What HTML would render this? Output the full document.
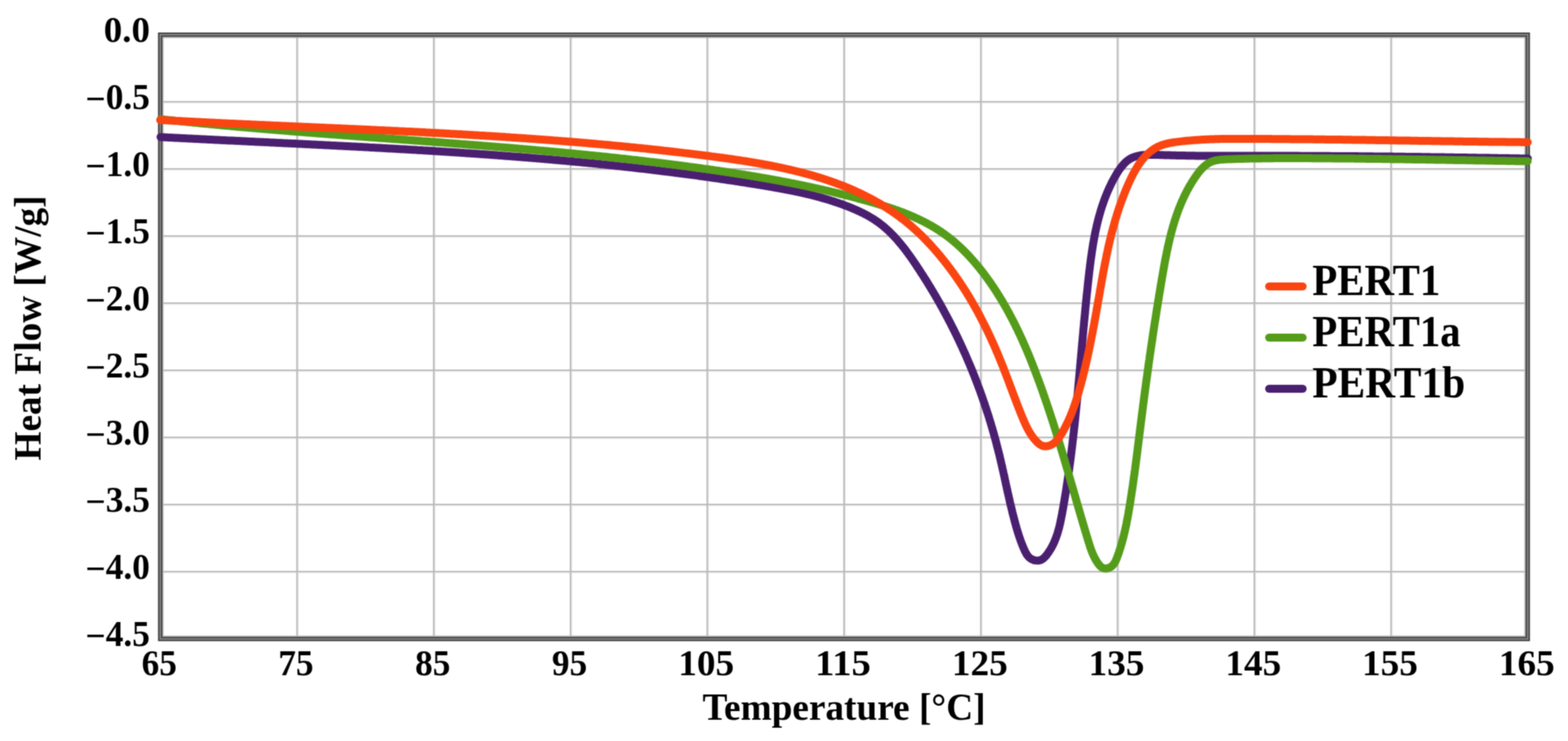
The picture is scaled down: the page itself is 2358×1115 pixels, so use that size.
<!DOCTYPE html>
<html><head><meta charset="utf-8"><title>Heat Flow vs Temperature (DSC)</title>
<style>html,body{margin:0;padding:0;background:#fff;overflow:hidden;}svg{display:block;}</style>
</head><body>
<svg width="2358" height="1115" viewBox="0 0 2358 1115">
<defs><filter id="soft" x="0" y="0" width="100%" height="100%" color-interpolation-filters="sRGB"><feConvolveMatrix order="3" kernelMatrix="1 2 1 2 4 2 1 2 1" divisor="16" edgeMode="duplicate"/></filter></defs>
<g filter="url(#soft)">
<rect width="2358" height="1115" fill="#fff"/>
<g stroke="#e6e6e6" stroke-width="2"><line x1="448.2" y1="52.2" x2="448.2" y2="961.5"/><line x1="653.8" y1="52.2" x2="653.8" y2="961.5"/><line x1="859.5" y1="52.2" x2="859.5" y2="961.5"/><line x1="1065.1" y1="52.2" x2="1065.1" y2="961.5"/><line x1="1270.8" y1="52.2" x2="1270.8" y2="961.5"/><line x1="1476.5" y1="52.2" x2="1476.5" y2="961.5"/><line x1="1682.1" y1="52.2" x2="1682.1" y2="961.5"/><line x1="1887.8" y1="52.2" x2="1887.8" y2="961.5"/><line x1="2093.4" y1="52.2" x2="2093.4" y2="961.5"/><line x1="240.9" y1="154.6" x2="2297.5" y2="154.6"/><line x1="240.9" y1="255.6" x2="2297.5" y2="255.6"/><line x1="240.9" y1="356.6" x2="2297.5" y2="356.6"/><line x1="240.9" y1="457.6" x2="2297.5" y2="457.6"/><line x1="240.9" y1="558.6" x2="2297.5" y2="558.6"/><line x1="240.9" y1="659.6" x2="2297.5" y2="659.6"/><line x1="240.9" y1="760.6" x2="2297.5" y2="760.6"/><line x1="240.9" y1="861.6" x2="2297.5" y2="861.6"/></g>
<g stroke="#b9b9b9" stroke-width="2.2"><line x1="446.6" y1="52.2" x2="446.6" y2="961.5"/><line x1="652.2" y1="52.2" x2="652.2" y2="961.5"/><line x1="857.9" y1="52.2" x2="857.9" y2="961.5"/><line x1="1063.5" y1="52.2" x2="1063.5" y2="961.5"/><line x1="1269.2" y1="52.2" x2="1269.2" y2="961.5"/><line x1="1474.9" y1="52.2" x2="1474.9" y2="961.5"/><line x1="1680.5" y1="52.2" x2="1680.5" y2="961.5"/><line x1="1886.2" y1="52.2" x2="1886.2" y2="961.5"/><line x1="2091.8" y1="52.2" x2="2091.8" y2="961.5"/><line x1="240.9" y1="153.0" x2="2297.5" y2="153.0"/><line x1="240.9" y1="254.0" x2="2297.5" y2="254.0"/><line x1="240.9" y1="355.0" x2="2297.5" y2="355.0"/><line x1="240.9" y1="456.0" x2="2297.5" y2="456.0"/><line x1="240.9" y1="557.0" x2="2297.5" y2="557.0"/><line x1="240.9" y1="658.0" x2="2297.5" y2="658.0"/><line x1="240.9" y1="759.0" x2="2297.5" y2="759.0"/><line x1="240.9" y1="860.0" x2="2297.5" y2="860.0"/></g>
<rect x="245.1" y="56.4" width="2048.2" height="900.9" fill="none" stroke="#b8b8b8" stroke-width="2"/>
<rect x="240.9" y="52.2" width="2056.6" height="909.3" fill="none" stroke="#424242" stroke-width="6.6"/>
<rect x="240.9" y="52.2" width="2056.6" height="909.3" fill="none" stroke="#8e8e8e" stroke-width="2"/>
<path d="M241.4,206.3L243.4,206.4 245.4,206.5 247.4,206.6 249.4,206.7 251.4,206.8 253.4,206.9 255.4,207.0 257.4,207.1 259.4,207.2 261.4,207.3 263.4,207.4 265.4,207.5 267.4,207.6 269.4,207.7 271.4,207.8 273.4,207.9 275.4,208.0 277.4,208.1 279.4,208.2 281.4,208.3 283.4,208.4 285.5,208.5 287.5,208.6 289.5,208.7 291.5,208.8 293.5,208.9 295.5,209.0 297.5,209.1 299.5,209.2 301.5,209.3 303.5,209.4 305.5,209.5 307.5,209.6 309.5,209.7 311.5,209.8 313.5,209.9 315.5,210.0 317.5,210.1 319.5,210.2 321.5,210.3 323.5,210.4 325.5,210.5 327.5,210.6 329.5,210.7 331.5,210.8 333.5,210.9 335.5,211.0 337.5,211.1 339.5,211.2 341.5,211.3 343.5,211.4 345.5,211.5 347.5,211.5 349.5,211.6 351.5,211.7 353.5,211.8 355.5,211.9 357.5,212.0 359.5,212.1 361.5,212.2 363.5,212.3 365.5,212.4 367.5,212.5 369.5,212.6 371.5,212.7 373.5,212.8 375.5,212.9 377.5,213.0 379.5,213.1 381.5,213.2 383.5,213.3 385.5,213.4 387.5,213.5 389.5,213.6 391.5,213.7 393.5,213.7 395.5,213.8 397.5,213.9 399.5,214.0 401.5,214.1 403.5,214.2 405.5,214.3 407.5,214.4 409.5,214.5 411.5,214.6 413.5,214.7 415.5,214.8 417.5,214.9 419.5,215.0 421.5,215.1 423.5,215.2 425.5,215.3 427.5,215.4 429.5,215.5 431.5,215.6 433.5,215.7 435.5,215.8 437.5,215.8 439.5,215.9 441.5,216.0 443.5,216.1 445.5,216.2 447.5,216.3 449.5,216.4 451.5,216.5 453.5,216.6 455.5,216.7 457.5,216.8 459.5,216.9 461.5,217.0 463.5,217.1 465.5,217.2 467.5,217.3 469.5,217.4 471.5,217.5 473.5,217.6 475.5,217.7 477.5,217.8 479.5,217.9 481.5,218.0 483.5,218.1 485.5,218.2 487.5,218.3 489.5,218.4 491.5,218.5 493.5,218.6 495.5,218.7 497.5,218.8 499.5,218.9 501.5,219.0 503.5,219.1 505.5,219.2 507.5,219.3 509.5,219.4 511.5,219.5 513.5,219.6 515.5,219.7 517.5,219.8 519.5,219.9 521.5,220.0 523.5,220.1 525.5,220.2 527.5,220.3 529.5,220.4 531.5,220.5 533.5,220.6 535.5,220.7 537.5,220.8 539.5,220.9 541.5,221.0 543.5,221.1 545.5,221.2 547.5,221.3 549.5,221.4 551.5,221.5 553.4,221.6 555.4,221.8 557.4,221.9 559.4,222.0 561.4,222.1 563.4,222.2 565.4,222.3 567.4,222.4 569.4,222.5 571.4,222.6 573.4,222.7 575.4,222.8 577.4,222.9 579.4,223.0 581.4,223.2 583.4,223.3 585.4,223.4 587.4,223.5 589.4,223.6 591.4,223.7 593.4,223.8 595.4,223.9 597.4,224.0 599.4,224.2 601.4,224.3 603.4,224.4 605.4,224.5 607.4,224.6 609.4,224.7 611.4,224.8 613.4,224.9 615.4,225.1 617.4,225.2 619.4,225.3 621.4,225.4 623.4,225.5 625.4,225.6 627.4,225.8 629.3,225.9 631.3,226.0 633.3,226.1 635.3,226.2 637.3,226.4 639.3,226.5 641.3,226.6 643.3,226.7 645.3,226.8 647.3,227.0 649.3,227.1 651.3,227.2 653.3,227.3 655.3,227.4 657.3,227.6 659.3,227.7 661.3,227.8 663.3,227.9 665.3,228.1 667.3,228.2 669.3,228.3 671.3,228.4 673.3,228.6 675.3,228.7 677.3,228.8 679.3,229.0 681.2,229.1 683.2,229.2 685.2,229.3 687.2,229.5 689.2,229.6 691.2,229.7 693.2,229.9 695.2,230.0 697.2,230.1 699.2,230.3 701.2,230.4 703.2,230.5 705.2,230.7 707.2,230.8 709.2,230.9 711.2,231.1 713.2,231.2 715.2,231.3 717.2,231.5 719.2,231.6 721.2,231.8 723.1,231.9 725.1,232.0 727.1,232.2 729.1,232.3 731.1,232.5 733.1,232.6 735.1,232.7 737.1,232.9 739.1,233.0 741.1,233.2 743.1,233.3 745.1,233.5 747.1,233.6 749.1,233.8 751.1,233.9 753.1,234.1 755.1,234.2 757.1,234.4 759.1,234.5 761.0,234.7 763.0,234.8 765.0,235.0 767.0,235.1 769.0,235.3 771.0,235.4 773.0,235.6 775.0,235.7 777.0,235.9 779.0,236.0 781.0,236.2 783.0,236.3 785.0,236.5 787.0,236.7 789.0,236.8 791.0,237.0 792.9,237.1 794.9,237.3 796.9,237.5 798.9,237.6 800.9,237.8 802.9,237.9 804.9,238.1 806.9,238.3 808.9,238.4 810.9,238.6 812.9,238.8 814.9,238.9 816.9,239.1 818.9,239.3 820.8,239.5 822.8,239.6 824.8,239.8 826.8,240.0 828.8,240.1 830.8,240.3 832.8,240.5 834.8,240.7 836.8,240.8 838.8,241.0 840.8,241.2 842.8,241.4 844.8,241.5 846.8,241.7 848.7,241.9 850.7,242.1 852.7,242.3 854.7,242.4 856.7,242.6 858.7,242.8 860.7,243.0 862.7,243.2 864.7,243.4 866.7,243.5 868.7,243.7 870.7,243.9 872.6,244.1 874.6,244.3 876.6,244.5 878.6,244.7 880.6,244.9 882.6,245.1 884.6,245.3 886.6,245.5 888.6,245.6 890.6,245.8 892.6,246.0 894.6,246.2 896.5,246.4 898.5,246.6 900.5,246.8 902.5,247.0 904.5,247.2 906.5,247.4 908.5,247.6 910.5,247.8 912.5,248.1 914.5,248.3 916.5,248.5 918.4,248.7 920.4,248.9 922.4,249.1 924.4,249.3 926.4,249.5 928.4,249.7 930.4,249.9 932.4,250.1 934.4,250.4 936.4,250.6 938.3,250.8 940.3,251.0 942.3,251.2 944.3,251.4 946.3,251.7 948.3,251.9 950.3,252.1 952.3,252.3 954.3,252.6 956.3,252.8 958.2,253.0 960.2,253.2 962.2,253.5 964.2,253.7 966.2,253.9 968.2,254.1 970.2,254.4 972.2,254.6 974.2,254.8 976.2,255.1 978.1,255.3 980.1,255.5 982.1,255.8 984.1,256.0 986.1,256.3 988.1,256.5 990.1,256.7 992.1,257.0 994.1,257.2 996.0,257.5 998.0,257.7 1000.0,258.0 1002.0,258.2 1004.0,258.4 1006.0,258.7 1008.0,258.9 1010.0,259.2 1011.9,259.4 1013.9,259.7 1015.9,260.0 1017.9,260.2 1019.9,260.5 1021.9,260.7 1023.9,261.0 1025.9,261.2 1027.9,261.5 1029.8,261.8 1031.8,262.0 1033.8,262.3 1035.8,262.5 1037.8,262.8 1039.8,263.1 1041.8,263.3 1043.8,263.6 1045.7,263.9 1047.7,264.1 1049.7,264.4 1051.7,264.7 1053.7,265.0 1055.7,265.2 1057.7,265.5 1059.7,265.8 1061.6,266.1 1063.6,266.3 1065.6,266.6 1067.6,266.9 1069.6,267.2 1071.6,267.5 1073.6,267.8 1075.5,268.0 1077.5,268.3 1079.5,268.6 1081.5,268.9 1083.5,269.2 1085.5,269.5 1087.5,269.8 1089.5,270.1 1091.4,270.4 1093.4,270.7 1095.4,271.0 1097.4,271.3 1099.4,271.5 1101.4,271.8 1103.4,272.1 1105.3,272.5 1107.3,272.8 1109.3,273.1 1111.3,273.4 1113.3,273.7 1115.3,274.0 1117.3,274.3 1119.2,274.6 1121.2,274.9 1123.2,275.2 1125.2,275.5 1127.2,275.9 1129.2,276.2 1131.2,276.5 1133.1,276.8 1135.1,277.1 1137.1,277.4 1139.1,277.8 1141.1,278.1 1143.1,278.4 1145.0,278.7 1147.0,279.1 1149.0,279.4 1151.0,279.7 1153.0,280.1 1155.0,280.4 1156.9,280.7 1158.9,281.1 1160.9,281.4 1162.9,281.8 1164.9,282.1 1166.9,282.5 1168.8,282.8 1170.8,283.2 1172.8,283.5 1174.8,283.9 1176.7,284.3 1178.7,284.6 1180.7,285.0 1182.7,285.4 1184.6,285.8 1186.6,286.2 1188.6,286.6 1190.5,286.9 1192.5,287.3 1194.5,287.7 1196.4,288.2 1198.4,288.6 1200.3,289.0 1202.3,289.4 1204.3,289.8 1206.2,290.3 1208.2,290.7 1210.1,291.2 1212.1,291.6 1214.0,292.1 1215.9,292.5 1217.9,293.0 1219.8,293.5 1221.8,294.0 1223.7,294.5 1225.6,295.0 1227.6,295.5 1229.5,296.0 1231.4,296.5 1233.3,297.0 1235.3,297.6 1237.2,298.1 1239.1,298.6 1241.0,299.2 1242.9,299.8 1244.8,300.3 1246.7,300.9 1248.6,301.5 1250.5,302.1 1252.4,302.7 1254.3,303.3 1256.2,304.0 1258.1,304.6 1260.0,305.2 1261.8,305.9 1263.7,306.5 1265.6,307.2 1267.5,307.9 1269.3,308.6 1271.2,309.3 1273.0,310.0 1274.9,310.7 1276.7,311.4 1278.6,312.2 1280.4,312.9 1282.3,313.7 1284.1,314.5 1285.9,315.3 1287.7,316.1 1289.6,316.9 1291.4,317.7 1293.2,318.5 1294.9,319.4 1296.7,320.3 1298.5,321.1 1300.3,322.0 1302.0,323.0 1303.8,323.9 1305.5,324.8 1307.2,325.8 1308.9,326.8 1310.6,327.8 1312.3,328.8 1314.0,329.9 1315.6,331.0 1317.2,332.1 1318.9,333.2 1320.5,334.3 1322.1,335.5 1323.6,336.7 1325.2,337.9 1326.7,339.1 1328.2,340.3 1329.7,341.6 1331.2,342.9 1332.7,344.2 1334.2,345.5 1335.6,346.8 1337.1,348.2 1338.5,349.6 1339.9,351.0 1341.3,352.4 1342.7,353.8 1344.0,355.2 1345.4,356.7 1346.8,358.1 1348.1,359.6 1349.4,361.1 1350.7,362.6 1352.0,364.2 1353.3,365.7 1354.6,367.2 1355.9,368.8 1357.1,370.4 1358.4,371.9 1359.6,373.5 1360.9,375.1 1362.1,376.7 1363.3,378.4 1364.5,380.0 1365.7,381.6 1366.9,383.3 1368.1,384.9 1369.3,386.6 1370.4,388.2 1371.6,389.9 1372.8,391.6 1373.9,393.2 1375.0,394.9 1376.2,396.6 1377.3,398.3 1378.4,400.0 1379.6,401.7 1380.7,403.4 1381.8,405.1 1382.9,406.8 1384.0,408.5 1385.1,410.2 1386.2,411.9 1387.3,413.6 1388.4,415.3 1389.5,417.0 1390.6,418.7 1391.7,420.4 1392.7,422.1 1393.8,423.8 1394.9,425.5 1395.9,427.3 1397.0,429.0 1398.0,430.7 1399.1,432.4 1400.1,434.1 1401.1,435.9 1402.2,437.6 1403.2,439.3 1404.2,441.0 1405.3,442.8 1406.3,444.5 1407.3,446.2 1408.3,448.0 1409.3,449.7 1410.3,451.5 1411.3,453.2 1412.3,454.9 1413.3,456.7 1414.2,458.4 1415.2,460.2 1416.2,461.9 1417.2,463.7 1418.1,465.4 1419.1,467.2 1420.0,469.0 1421.0,470.7 1421.9,472.5 1422.9,474.2 1423.8,476.0 1424.8,477.8 1425.7,479.5 1426.6,481.3 1427.5,483.1 1428.5,484.8 1429.4,486.6 1430.3,488.4 1431.2,490.2 1432.1,491.9 1433.0,493.7 1433.9,495.5 1434.8,497.3 1435.7,499.1 1436.5,500.9 1437.4,502.6 1438.3,504.4 1439.2,506.2 1440.0,508.0 1440.9,509.8 1441.7,511.6 1442.6,513.4 1443.4,515.2 1444.3,517.0 1445.1,518.8 1445.9,520.6 1446.8,522.4 1447.6,524.2 1448.4,526.1 1449.2,527.9 1450.1,529.7 1450.9,531.5 1451.7,533.3 1452.5,535.1 1453.3,537.0 1454.1,538.8 1454.8,540.6 1455.6,542.4 1456.4,544.3 1457.2,546.1 1458.0,547.9 1458.7,549.7 1459.5,551.6 1460.3,553.4 1461.0,555.3 1461.8,557.1 1462.5,558.9 1463.2,560.8 1464.0,562.6 1464.7,564.5 1465.5,566.3 1466.2,568.2 1466.9,570.0 1467.6,571.9 1468.3,573.7 1469.0,575.6 1469.7,577.4 1470.4,579.3 1471.1,581.2 1471.8,583.0 1472.5,584.9 1473.2,586.8 1473.9,588.6 1474.6,590.5 1475.2,592.4 1475.9,594.2 1476.6,596.1 1477.2,598.0 1477.9,599.9 1478.5,601.8 1479.2,603.6 1479.8,605.5 1480.5,607.4 1481.1,609.3 1481.7,611.2 1482.4,613.1 1483.0,615.0 1483.6,616.9 1484.2,618.8 1484.8,620.7 1485.5,622.6 1486.1,624.5 1486.7,626.4 1487.3,628.3 1487.8,630.2 1488.4,632.1 1489.0,634.0 1489.6,635.9 1490.2,637.8 1490.7,639.8 1491.3,641.7 1491.9,643.6 1492.4,645.5 1493.0,647.4 1493.5,649.4 1494.1,651.3 1494.6,653.2 1495.2,655.2 1495.7,657.1 1496.2,659.0 1496.8,661.0 1497.3,662.9 1497.8,664.8 1498.3,666.8 1498.8,668.7 1499.3,670.7 1499.8,672.6 1500.3,674.6 1500.8,676.5 1501.3,678.5 1501.8,680.4 1502.3,682.4 1502.8,684.3 1503.3,686.3 1503.7,688.3 1504.2,690.2 1504.7,692.2 1505.1,694.2 1505.6,696.1 1506.0,698.1 1506.5,700.1 1506.9,702.0 1507.4,704.0 1507.8,706.0 1508.3,707.9 1508.7,709.9 1509.1,711.9 1509.6,713.9 1510.0,715.8 1510.5,717.8 1510.9,719.8 1511.3,721.8 1511.8,723.7 1512.2,725.7 1512.6,727.7 1513.0,729.7 1513.5,731.6 1513.9,733.6 1514.3,735.6 1514.8,737.5 1515.2,739.5 1515.6,741.5 1516.1,743.4 1516.5,745.4 1517.0,747.3 1517.4,749.3 1517.9,751.3 1518.3,753.2 1518.7,755.2 1519.2,757.1 1519.6,759.1 1520.1,761.0 1520.6,762.9 1521.0,764.9 1521.5,766.8 1522.0,768.7 1522.4,770.7 1522.9,772.6 1523.4,774.5 1523.9,776.4 1524.4,778.4 1524.9,780.3 1525.4,782.2 1525.9,784.1 1526.4,786.0 1526.9,787.9 1527.4,789.8 1527.9,791.6 1528.5,793.5 1529.0,795.4 1529.6,797.3 1530.1,799.2 1530.7,801.0 1531.3,802.9 1531.9,804.8 1532.5,806.6 1533.1,808.5 1533.8,810.4 1534.4,812.3 1535.1,814.1 1535.8,816.0 1536.5,817.9 1537.3,819.8 1538.0,821.7 1538.8,823.6 1539.6,825.5 1540.5,827.4 1541.3,829.3 1542.3,831.2 1543.3,833.0 1544.4,834.8 1545.6,836.4 1546.9,837.9 1548.3,839.3 1549.9,840.5 1551.7,841.5 1553.5,842.3 1555.4,843.0 1557.4,843.4 1559.4,843.6 1561.3,843.5 1563.2,843.2 1565.0,842.7 1566.7,841.9 1568.4,840.8 1569.9,839.6 1571.3,838.2 1572.7,836.7 1574.0,835.1 1575.2,833.4 1576.4,831.7 1577.6,830.0 1578.7,828.3 1579.8,826.6 1580.8,824.8 1581.8,823.0 1582.7,821.3 1583.6,819.5 1584.5,817.7 1585.3,815.8 1586.1,814.0 1586.8,812.1 1587.6,810.3 1588.3,808.4 1588.9,806.5 1589.6,804.6 1590.2,802.7 1590.8,800.8 1591.3,798.9 1591.9,797.0 1592.4,795.1 1592.9,793.1 1593.4,791.2 1593.8,789.2 1594.3,787.3 1594.7,785.3 1595.1,783.3 1595.5,781.4 1595.9,779.4 1596.3,777.4 1596.7,775.5 1597.1,773.5 1597.4,771.5 1597.8,769.5 1598.2,767.5 1598.5,765.6 1598.9,763.6 1599.2,761.6 1599.6,759.6 1599.9,757.6 1600.2,755.7 1600.6,753.7 1600.9,751.7 1601.2,749.7 1601.6,747.7 1601.9,745.8 1602.2,743.8 1602.5,741.8 1602.9,739.8 1603.2,737.8 1603.5,735.9 1603.8,733.9 1604.1,731.9 1604.4,729.9 1604.7,727.9 1605.0,726.0 1605.3,724.0 1605.6,722.0 1605.9,720.0 1606.2,718.0 1606.4,716.1 1606.7,714.1 1607.0,712.1 1607.3,710.1 1607.6,708.1 1607.8,706.2 1608.1,704.2 1608.4,702.2 1608.6,700.2 1608.9,698.2 1609.2,696.2 1609.4,694.3 1609.7,692.3 1610.0,690.3 1610.2,688.3 1610.5,686.3 1610.7,684.4 1611.0,682.4 1611.2,680.4 1611.4,678.4 1611.7,676.4 1611.9,674.5 1612.2,672.5 1612.4,670.5 1612.6,668.5 1612.9,666.5 1613.1,664.5 1613.3,662.6 1613.6,660.6 1613.8,658.6 1614.0,656.6 1614.2,654.6 1614.5,652.6 1614.7,650.7 1614.9,648.7 1615.1,646.7 1615.3,644.7 1615.6,642.7 1615.8,640.7 1616.0,638.8 1616.2,636.8 1616.4,634.8 1616.6,632.8 1616.8,630.8 1617.0,628.8 1617.2,626.9 1617.4,624.9 1617.6,622.9 1617.8,620.9 1618.0,618.9 1618.2,616.9 1618.4,614.9 1618.6,613.0 1618.8,611.0 1619.0,609.0 1619.2,607.0 1619.4,605.0 1619.6,603.0 1619.8,601.0 1620.0,599.1 1620.2,597.1 1620.3,595.1 1620.5,593.1 1620.7,591.1 1620.9,589.1 1621.1,587.1 1621.3,585.2 1621.5,583.2 1621.6,581.2 1621.8,579.2 1622.0,577.2 1622.2,575.2 1622.4,573.2 1622.6,571.2 1622.7,569.2 1622.9,567.3 1623.1,565.3 1623.3,563.3 1623.4,561.3 1623.6,559.3 1623.8,557.3 1624.0,555.3 1624.2,553.3 1624.3,551.3 1624.5,549.4 1624.7,547.4 1624.9,545.4 1625.0,543.4 1625.2,541.4 1625.4,539.4 1625.6,537.4 1625.8,535.4 1625.9,533.4 1626.1,531.4 1626.3,529.4 1626.5,527.4 1626.6,525.5 1626.8,523.5 1627.0,521.5 1627.2,519.5 1627.3,517.5 1627.5,515.5 1627.7,513.5 1627.9,511.5 1628.1,509.5 1628.2,507.5 1628.4,505.5 1628.6,503.5 1628.8,501.5 1629.0,499.5 1629.1,497.5 1629.3,495.5 1629.5,493.5 1629.7,491.5 1629.9,489.6 1630.1,487.6 1630.2,485.6 1630.4,483.6 1630.6,481.6 1630.8,479.6 1631.0,477.6 1631.2,475.6 1631.4,473.6 1631.6,471.6 1631.8,469.6 1631.9,467.6 1632.1,465.6 1632.3,463.6 1632.5,461.6 1632.7,459.6 1632.9,457.6 1633.1,455.6 1633.3,453.6 1633.5,451.6 1633.7,449.6 1633.9,447.6 1634.1,445.6 1634.3,443.6 1634.5,441.6 1634.8,439.6 1635.0,437.6 1635.2,435.6 1635.4,433.6 1635.6,431.5 1635.8,429.5 1636.0,427.5 1636.2,425.5 1636.5,423.5 1636.7,421.5 1636.9,419.5 1637.1,417.5 1637.4,415.5 1637.6,413.5 1637.8,411.5 1638.0,409.5 1638.3,407.5 1638.5,405.5 1638.8,403.5 1639.0,401.5 1639.2,399.5 1639.5,397.5 1639.8,395.5 1640.0,393.5 1640.3,391.5 1640.5,389.5 1640.8,387.5 1641.1,385.5 1641.4,383.5 1641.7,381.5 1642.0,379.5 1642.2,377.5 1642.6,375.5 1642.9,373.5 1643.2,371.5 1643.5,369.5 1643.8,367.5 1644.2,365.6 1644.5,363.6 1644.9,361.6 1645.2,359.6 1645.6,357.7 1645.9,355.7 1646.3,353.7 1646.7,351.7 1647.1,349.8 1647.5,347.8 1647.9,345.9 1648.4,343.9 1648.8,342.0 1649.2,340.0 1649.7,338.1 1650.1,336.1 1650.6,334.2 1651.1,332.3 1651.6,330.3 1652.1,328.4 1652.6,326.5 1653.1,324.6 1653.7,322.6 1654.2,320.7 1654.8,318.8 1655.3,316.9 1655.9,315.0 1656.5,313.1 1657.1,311.2 1657.7,309.3 1658.4,307.5 1659.0,305.6 1659.7,303.7 1660.3,301.8 1661.0,300.0 1661.7,298.1 1662.4,296.3 1663.2,294.4 1663.9,292.6 1664.6,290.8 1665.4,288.9 1666.2,287.1 1667.0,285.3 1667.8,283.5 1668.6,281.7 1669.5,279.9 1670.4,278.1 1671.2,276.3 1672.1,274.5 1673.0,272.7 1674.0,270.9 1674.9,269.2 1675.9,267.4 1676.9,265.7 1677.9,263.9 1678.9,262.2 1679.9,260.5 1681.0,258.8 1682.0,257.1 1683.2,255.4 1684.3,253.8 1685.5,252.2 1686.7,250.7 1687.9,249.2 1689.2,247.7 1690.5,246.3 1691.8,245.0 1693.2,243.7 1694.6,242.4 1696.1,241.3 1697.6,240.2 1699.1,239.2 1700.7,238.3 1702.4,237.5 1704.1,236.7 1705.9,236.1 1707.7,235.5 1709.5,235.0 1711.4,234.5 1713.3,234.1 1715.3,233.8 1717.2,233.5 1719.3,233.3 1721.3,233.2 1723.3,233.0 1725.4,232.9 1727.5,232.9 1729.6,232.9 1731.7,232.9 1733.9,232.9 1736.0,232.9 1738.1,233.0 1740.3,233.0 1742.4,233.1 1744.5,233.2 1746.7,233.3 1748.8,233.3 1750.9,233.4 1753.0,233.5 1755.1,233.5 1757.2,233.6 1759.3,233.6 1761.4,233.7 1763.5,233.7 1765.5,233.8 1767.6,233.8 1769.7,233.9 1771.7,233.9 1773.8,234.0 1775.8,234.0 1777.9,234.1 1779.9,234.1 1781.9,234.1 1784.0,234.2 1786.0,234.2 1788.0,234.2 1790.0,234.3 1792.1,234.3 1794.1,234.3 1796.1,234.3 1798.1,234.4 1800.1,234.4 1802.1,234.4 1804.1,234.4 1806.1,234.5 1808.1,234.5 1810.0,234.5 1812.0,234.5 1814.0,234.5 1816.0,234.5 1818.0,234.5 1819.9,234.6 1821.9,234.6 1823.9,234.6 1825.8,234.6 1827.8,234.6 1829.8,234.6 1831.7,234.6 1833.7,234.6 1835.7,234.6 1837.6,234.6 1839.6,234.6 1841.6,234.6 1843.5,234.6 1845.5,234.6 1847.4,234.6 1849.4,234.6 1851.3,234.6 1853.3,234.6 1855.3,234.6 1857.2,234.6 1859.2,234.6 1861.1,234.6 1863.1,234.6 1865.1,234.6 1867.0,234.6 1869.0,234.6 1871.0,234.6 1872.9,234.6 1874.9,234.6 1876.9,234.6 1878.8,234.6 1880.8,234.6 1882.8,234.6 1884.8,234.6 1886.7,234.6 1888.7,234.6 1890.7,234.6 1892.7,234.6 1894.7,234.6 1896.7,234.6 1898.6,234.6 1900.6,234.6 1902.6,234.6 1904.6,234.6 1906.6,234.6 1908.6,234.6 1910.6,234.6 1912.6,234.6 1914.6,234.6 1916.6,234.6 1918.6,234.6 1920.7,234.6 1922.7,234.6 1924.7,234.6 1926.7,234.6 1928.7,234.6 1930.7,234.6 1932.7,234.6 1934.7,234.6 1936.8,234.6 1938.8,234.6 1940.8,234.6 1942.8,234.6 1944.8,234.6 1946.9,234.6 1948.9,234.6 1950.9,234.6 1952.9,234.6 1954.9,234.7 1957.0,234.7 1959.0,234.7 1961.0,234.7 1963.0,234.7 1965.1,234.7 1967.1,234.7 1969.1,234.7 1971.1,234.7 1973.2,234.7 1975.2,234.7 1977.2,234.7 1979.2,234.7 1981.2,234.8 1983.3,234.8 1985.3,234.8 1987.3,234.8 1989.3,234.8 1991.4,234.8 1993.4,234.8 1995.4,234.8 1997.4,234.8 1999.4,234.8 2001.5,234.9 2003.5,234.9 2005.5,234.9 2007.5,234.9 2009.5,234.9 2011.5,234.9 2013.6,234.9 2015.6,234.9 2017.6,235.0 2019.6,235.0 2021.6,235.0 2023.6,235.0 2025.6,235.0 2027.6,235.0 2029.6,235.0 2031.6,235.1 2033.7,235.1 2035.7,235.1 2037.7,235.1 2039.7,235.1 2041.7,235.1 2043.7,235.2 2045.7,235.2 2047.7,235.2 2049.7,235.2 2051.7,235.2 2053.7,235.2 2055.7,235.3 2057.7,235.3 2059.7,235.3 2061.7,235.3 2063.7,235.3 2065.7,235.4 2067.7,235.4 2069.7,235.4 2071.7,235.4 2073.7,235.4 2075.7,235.5 2077.7,235.5 2079.7,235.5 2081.7,235.5 2083.7,235.5 2085.7,235.6 2087.7,235.6 2089.7,235.6 2091.7,235.6 2093.7,235.6 2095.7,235.7 2097.7,235.7 2099.7,235.7 2101.6,235.7 2103.6,235.8 2105.6,235.8 2107.6,235.8 2109.6,235.8 2111.6,235.8 2113.6,235.9 2115.6,235.9 2117.6,235.9 2119.6,235.9 2121.6,236.0 2123.6,236.0 2125.6,236.0 2127.6,236.0 2129.5,236.1 2131.5,236.1 2133.5,236.1 2135.5,236.1 2137.5,236.2 2139.5,236.2 2141.5,236.2 2143.5,236.2 2145.5,236.3 2147.5,236.3 2149.5,236.3 2151.5,236.4 2153.4,236.4 2155.4,236.4 2157.4,236.4 2159.4,236.5 2161.4,236.5 2163.4,236.5 2165.4,236.5 2167.4,236.6 2169.4,236.6 2171.4,236.6 2173.4,236.7 2175.4,236.7 2177.4,236.7 2179.3,236.7 2181.3,236.8 2183.3,236.8 2185.3,236.8 2187.3,236.9 2189.3,236.9 2191.3,236.9 2193.3,236.9 2195.3,237.0 2197.3,237.0 2199.3,237.0 2201.3,237.1 2203.3,237.1 2205.3,237.1 2207.3,237.2 2209.3,237.2 2211.3,237.2 2213.3,237.2 2215.3,237.3 2217.3,237.3 2219.3,237.3 2221.3,237.4 2223.3,237.4 2225.3,237.4 2227.3,237.5 2229.3,237.5 2231.3,237.5 2233.3,237.6 2235.3,237.6 2237.3,237.6 2239.3,237.6 2241.3,237.7 2243.3,237.7 2245.3,237.7 2247.3,237.8 2249.3,237.8 2251.3,237.8 2253.3,237.9 2255.3,237.9 2257.3,237.9 2259.3,238.0 2261.3,238.0 2263.3,238.0 2265.4,238.1 2267.4,238.1 2269.4,238.1 2271.4,238.2 2273.4,238.2 2275.4,238.2 2277.4,238.2 2279.4,238.3 2281.5,238.3 2283.5,238.3 2285.5,238.4 2287.5,238.4 2289.5,238.4 2291.5,238.5 2293.6,238.5 2295.6,238.5 2297.6,238.6" fill="none" stroke="#4a1f70" stroke-width="12" stroke-linecap="round" stroke-linejoin="round"/>
<path d="M241.6,179.3L243.6,179.6 245.5,179.8 247.5,180.0 249.5,180.2 251.5,180.4 253.5,180.6 255.5,180.8 257.5,181.0 259.4,181.2 261.4,181.5 263.4,181.7 265.4,181.9 267.4,182.1 269.4,182.3 271.4,182.5 273.4,182.7 275.3,182.9 277.3,183.1 279.3,183.3 281.3,183.5 283.3,183.7 285.3,183.9 287.3,184.1 289.3,184.3 291.2,184.5 293.2,184.7 295.2,184.9 297.2,185.1 299.2,185.3 301.2,185.5 303.2,185.7 305.2,185.9 307.1,186.0 309.1,186.2 311.1,186.4 313.1,186.6 315.1,186.8 317.1,187.0 319.1,187.2 321.1,187.4 323.1,187.6 325.1,187.8 327.0,187.9 329.0,188.1 331.0,188.3 333.0,188.5 335.0,188.7 337.0,188.9 339.0,189.0 341.0,189.2 343.0,189.4 345.0,189.6 347.0,189.8 348.9,189.9 350.9,190.1 352.9,190.3 354.9,190.5 356.9,190.7 358.9,190.8 360.9,191.0 362.9,191.2 364.9,191.4 366.9,191.5 368.9,191.7 370.9,191.9 372.9,192.1 374.8,192.2 376.8,192.4 378.8,192.6 380.8,192.7 382.8,192.9 384.8,193.1 386.8,193.3 388.8,193.4 390.8,193.6 392.8,193.8 394.8,193.9 396.8,194.1 398.8,194.3 400.8,194.4 402.7,194.6 404.7,194.8 406.7,194.9 408.7,195.1 410.7,195.3 412.7,195.4 414.7,195.6 416.7,195.8 418.7,195.9 420.7,196.1 422.7,196.2 424.7,196.4 426.7,196.6 428.7,196.7 430.7,196.9 432.7,197.1 434.7,197.2 436.7,197.4 438.7,197.5 440.6,197.7 442.6,197.9 444.6,198.0 446.6,198.2 448.6,198.3 450.6,198.5 452.6,198.6 454.6,198.8 456.6,199.0 458.6,199.1 460.6,199.3 462.6,199.4 464.6,199.6 466.6,199.7 468.6,199.9 470.6,200.0 472.6,200.2 474.6,200.4 476.6,200.5 478.6,200.7 480.6,200.8 482.6,201.0 484.6,201.1 486.6,201.3 488.6,201.4 490.6,201.6 492.5,201.7 494.5,201.9 496.5,202.0 498.5,202.2 500.5,202.3 502.5,202.5 504.5,202.6 506.5,202.8 508.5,202.9 510.5,203.1 512.5,203.2 514.5,203.4 516.5,203.5 518.5,203.7 520.5,203.8 522.5,204.0 524.5,204.1 526.5,204.3 528.5,204.4 530.5,204.6 532.5,204.7 534.5,204.9 536.5,205.0 538.5,205.2 540.5,205.3 542.5,205.5 544.5,205.6 546.5,205.8 548.5,205.9 550.5,206.1 552.5,206.2 554.5,206.4 556.5,206.5 558.5,206.7 560.5,206.8 562.5,206.9 564.5,207.1 566.5,207.2 568.5,207.4 570.5,207.5 572.4,207.7 574.4,207.8 576.4,208.0 578.4,208.1 580.4,208.3 582.4,208.4 584.4,208.6 586.4,208.7 588.4,208.9 590.4,209.0 592.4,209.2 594.4,209.3 596.4,209.4 598.4,209.6 600.4,209.7 602.4,209.9 604.4,210.0 606.4,210.2 608.4,210.3 610.4,210.5 612.4,210.6 614.4,210.8 616.4,210.9 618.4,211.1 620.4,211.2 622.4,211.4 624.4,211.5 626.4,211.7 628.4,211.8 630.4,212.0 632.4,212.1 634.4,212.3 636.4,212.4 638.4,212.6 640.4,212.7 642.4,212.8 644.4,213.0 646.4,213.1 648.4,213.3 650.4,213.4 652.4,213.6 654.4,213.7 656.4,213.9 658.4,214.0 660.4,214.2 662.4,214.3 664.4,214.5 666.4,214.6 668.4,214.8 670.4,214.9 672.4,215.1 674.4,215.2 676.4,215.4 678.4,215.6 680.3,215.7 682.3,215.9 684.3,216.0 686.3,216.2 688.3,216.3 690.3,216.5 692.3,216.6 694.3,216.8 696.3,216.9 698.3,217.1 700.3,217.2 702.3,217.4 704.3,217.5 706.3,217.7 708.3,217.9 710.3,218.0 712.3,218.2 714.3,218.3 716.3,218.5 718.3,218.6 720.3,218.8 722.3,219.0 724.3,219.1 726.3,219.3 728.3,219.4 730.3,219.6 732.3,219.7 734.3,219.9 736.3,220.1 738.3,220.2 740.3,220.4 742.3,220.6 744.3,220.7 746.3,220.9 748.3,221.0 750.3,221.2 752.2,221.4 754.2,221.5 756.2,221.7 758.2,221.9 760.2,222.0 762.2,222.2 764.2,222.3 766.2,222.5 768.2,222.7 770.2,222.8 772.2,223.0 774.2,223.2 776.2,223.3 778.2,223.5 780.2,223.7 782.2,223.9 784.2,224.0 786.2,224.2 788.2,224.4 790.2,224.5 792.2,224.7 794.2,224.9 796.2,225.1 798.2,225.2 800.1,225.4 802.1,225.6 804.1,225.7 806.1,225.9 808.1,226.1 810.1,226.3 812.1,226.4 814.1,226.6 816.1,226.8 818.1,227.0 820.1,227.2 822.1,227.3 824.1,227.5 826.1,227.7 828.1,227.9 830.1,228.1 832.1,228.2 834.0,228.4 836.0,228.6 838.0,228.8 840.0,229.0 842.0,229.2 844.0,229.3 846.0,229.5 848.0,229.7 850.0,229.9 852.0,230.1 854.0,230.3 856.0,230.5 858.0,230.7 860.0,230.9 862.0,231.0 863.9,231.2 865.9,231.4 867.9,231.6 869.9,231.8 871.9,232.0 873.9,232.2 875.9,232.4 877.9,232.6 879.9,232.8 881.9,233.0 883.9,233.2 885.9,233.4 887.8,233.6 889.8,233.8 891.8,234.0 893.8,234.2 895.8,234.4 897.8,234.6 899.8,234.8 901.8,235.0 903.8,235.2 905.8,235.4 907.7,235.6 909.7,235.8 911.7,236.0 913.7,236.2 915.7,236.5 917.7,236.7 919.7,236.9 921.7,237.1 923.7,237.3 925.7,237.5 927.6,237.7 929.6,237.9 931.6,238.2 933.6,238.4 935.6,238.6 937.6,238.8 939.6,239.0 941.6,239.3 943.5,239.5 945.5,239.7 947.5,239.9 949.5,240.1 951.5,240.4 953.5,240.6 955.5,240.8 957.5,241.0 959.4,241.3 961.4,241.5 963.4,241.7 965.4,242.0 967.4,242.2 969.4,242.4 971.4,242.7 973.4,242.9 975.3,243.1 977.3,243.4 979.3,243.6 981.3,243.8 983.3,244.1 985.3,244.3 987.2,244.5 989.2,244.8 991.2,245.0 993.2,245.3 995.2,245.5 997.2,245.8 999.2,246.0 1001.1,246.3 1003.1,246.5 1005.1,246.8 1007.1,247.0 1009.1,247.3 1011.1,247.5 1013.0,247.8 1015.0,248.0 1017.0,248.3 1019.0,248.5 1021.0,248.8 1022.9,249.0 1024.9,249.3 1026.9,249.6 1028.9,249.8 1030.9,250.1 1032.9,250.3 1034.8,250.6 1036.8,250.9 1038.8,251.1 1040.8,251.4 1042.8,251.7 1044.7,251.9 1046.7,252.2 1048.7,252.5 1050.7,252.8 1052.7,253.0 1054.6,253.3 1056.6,253.6 1058.6,253.9 1060.6,254.1 1062.6,254.4 1064.5,254.7 1066.5,255.0 1068.5,255.3 1070.5,255.5 1072.5,255.8 1074.4,256.1 1076.4,256.4 1078.4,256.7 1080.4,257.0 1082.3,257.3 1084.3,257.6 1086.3,257.8 1088.3,258.1 1090.2,258.4 1092.2,258.7 1094.2,259.0 1096.2,259.3 1098.1,259.6 1100.1,259.9 1102.1,260.2 1104.1,260.5 1106.0,260.8 1108.0,261.2 1110.0,261.5 1112.0,261.8 1113.9,262.1 1115.9,262.4 1117.9,262.7 1119.9,263.0 1121.8,263.4 1123.8,263.7 1125.8,264.0 1127.7,264.3 1129.7,264.7 1131.7,265.0 1133.7,265.3 1135.6,265.6 1137.6,266.0 1139.6,266.3 1141.5,266.6 1143.5,267.0 1145.5,267.3 1147.4,267.7 1149.4,268.0 1151.4,268.3 1153.4,268.7 1155.3,269.0 1157.3,269.4 1159.3,269.7 1161.2,270.1 1163.2,270.5 1165.2,270.8 1167.1,271.2 1169.1,271.5 1171.1,271.9 1173.0,272.3 1175.0,272.6 1176.9,273.0 1178.9,273.4 1180.9,273.8 1182.8,274.1 1184.8,274.5 1186.8,274.9 1188.7,275.3 1190.7,275.7 1192.6,276.0 1194.6,276.4 1196.6,276.8 1198.5,277.2 1200.5,277.6 1202.4,278.0 1204.4,278.4 1206.4,278.8 1208.3,279.2 1210.3,279.6 1212.2,280.0 1214.2,280.5 1216.2,280.9 1218.1,281.3 1220.1,281.7 1222.0,282.1 1224.0,282.6 1225.9,283.0 1227.9,283.4 1229.8,283.8 1231.8,284.3 1233.8,284.7 1235.7,285.2 1237.7,285.6 1239.6,286.0 1241.6,286.5 1243.5,286.9 1245.5,287.4 1247.4,287.8 1249.4,288.3 1251.3,288.8 1253.3,289.2 1255.2,289.7 1257.2,290.2 1259.1,290.6 1261.1,291.1 1263.0,291.6 1264.9,292.1 1266.9,292.5 1268.8,293.0 1270.8,293.5 1272.7,294.0 1274.7,294.5 1276.6,295.0 1278.6,295.5 1280.5,296.0 1282.4,296.5 1284.4,297.0 1286.3,297.5 1288.3,298.0 1290.2,298.6 1292.1,299.1 1294.1,299.6 1296.0,300.1 1298.0,300.7 1299.9,301.2 1301.8,301.7 1303.8,302.3 1305.7,302.8 1307.6,303.4 1309.6,303.9 1311.5,304.5 1313.4,305.0 1315.4,305.6 1317.3,306.2 1319.2,306.7 1321.1,307.3 1323.1,307.9 1325.0,308.5 1326.9,309.1 1328.8,309.7 1330.7,310.3 1332.6,310.9 1334.6,311.5 1336.5,312.1 1338.4,312.8 1340.3,313.4 1342.2,314.0 1344.0,314.7 1345.9,315.4 1347.8,316.0 1349.7,316.7 1351.6,317.4 1353.4,318.1 1355.3,318.8 1357.2,319.5 1359.0,320.2 1360.9,320.9 1362.7,321.7 1364.6,322.4 1366.4,323.2 1368.2,323.9 1370.1,324.7 1371.9,325.5 1373.7,326.3 1375.5,327.1 1377.3,327.9 1379.1,328.7 1380.9,329.5 1382.7,330.4 1384.5,331.2 1386.2,332.1 1388.0,333.0 1389.8,333.9 1391.5,334.8 1393.3,335.7 1395.0,336.6 1396.7,337.6 1398.4,338.5 1400.2,339.5 1401.9,340.5 1403.6,341.5 1405.2,342.5 1406.9,343.5 1408.6,344.5 1410.3,345.6 1411.9,346.6 1413.6,347.7 1415.2,348.8 1416.8,349.9 1418.4,351.0 1420.0,352.2 1421.6,353.3 1423.2,354.5 1424.8,355.7 1426.4,356.9 1427.9,358.1 1429.5,359.3 1431.0,360.5 1432.6,361.8 1434.1,363.1 1435.6,364.4 1437.1,365.7 1438.6,367.0 1440.1,368.3 1441.5,369.6 1443.0,371.0 1444.5,372.3 1445.9,373.7 1447.3,375.1 1448.8,376.5 1450.2,377.9 1451.6,379.3 1453.0,380.8 1454.4,382.2 1455.8,383.7 1457.1,385.1 1458.5,386.6 1459.8,388.1 1461.2,389.6 1462.5,391.1 1463.8,392.6 1465.2,394.1 1466.5,395.6 1467.8,397.2 1469.1,398.7 1470.3,400.3 1471.6,401.8 1472.9,403.4 1474.1,405.0 1475.4,406.5 1476.6,408.1 1477.9,409.7 1479.1,411.3 1480.3,412.9 1481.5,414.5 1482.7,416.2 1483.9,417.8 1485.1,419.4 1486.2,421.1 1487.4,422.7 1488.6,424.3 1489.7,426.0 1490.8,427.6 1492.0,429.3 1493.1,430.9 1494.2,432.6 1495.3,434.3 1496.4,436.0 1497.5,437.6 1498.6,439.3 1499.7,441.0 1500.7,442.7 1501.8,444.4 1502.8,446.1 1503.9,447.8 1504.9,449.5 1506.0,451.2 1507.0,452.9 1508.0,454.6 1509.0,456.3 1510.0,458.1 1511.0,459.8 1512.0,461.5 1513.0,463.3 1514.0,465.0 1514.9,466.7 1515.9,468.5 1516.9,470.2 1517.8,472.0 1518.7,473.8 1519.7,475.5 1520.6,477.3 1521.5,479.0 1522.5,480.8 1523.4,482.6 1524.3,484.4 1525.2,486.1 1526.1,487.9 1527.0,489.7 1527.8,491.5 1528.7,493.3 1529.6,495.1 1530.5,496.9 1531.3,498.7 1532.2,500.5 1533.0,502.3 1533.9,504.1 1534.7,505.9 1535.5,507.7 1536.4,509.5 1537.2,511.3 1538.0,513.2 1538.8,515.0 1539.6,516.8 1540.4,518.6 1541.2,520.5 1542.0,522.3 1542.8,524.1 1543.6,526.0 1544.4,527.8 1545.2,529.6 1545.9,531.5 1546.7,533.3 1547.5,535.2 1548.2,537.0 1549.0,538.9 1549.7,540.7 1550.5,542.6 1551.2,544.4 1552.0,546.3 1552.7,548.2 1553.4,550.0 1554.1,551.9 1554.9,553.7 1555.6,555.6 1556.3,557.5 1557.0,559.3 1557.7,561.2 1558.4,563.1 1559.1,565.0 1559.8,566.8 1560.5,568.7 1561.2,570.6 1561.9,572.5 1562.6,574.3 1563.3,576.2 1564.0,578.1 1564.6,580.0 1565.3,581.9 1566.0,583.7 1566.7,585.6 1567.3,587.5 1568.0,589.4 1568.7,591.3 1569.3,593.2 1570.0,595.1 1570.6,597.0 1571.3,598.8 1571.9,600.7 1572.6,602.6 1573.2,604.5 1573.9,606.4 1574.5,608.3 1575.2,610.2 1575.8,612.1 1576.4,614.0 1577.1,615.9 1577.7,617.8 1578.3,619.7 1579.0,621.6 1579.6,623.5 1580.2,625.4 1580.8,627.3 1581.4,629.2 1582.1,631.1 1582.7,633.0 1583.3,634.9 1583.9,636.8 1584.5,638.7 1585.1,640.6 1585.7,642.6 1586.3,644.5 1586.9,646.4 1587.5,648.3 1588.1,650.2 1588.7,652.1 1589.3,654.0 1589.9,655.9 1590.5,657.8 1591.1,659.8 1591.7,661.7 1592.3,663.6 1592.9,665.5 1593.4,667.4 1594.0,669.3 1594.6,671.2 1595.2,673.2 1595.8,675.1 1596.3,677.0 1596.9,678.9 1597.5,680.8 1598.1,682.8 1598.7,684.7 1599.2,686.6 1599.8,688.5 1600.4,690.4 1600.9,692.4 1601.5,694.3 1602.1,696.2 1602.6,698.1 1603.2,700.1 1603.8,702.0 1604.3,703.9 1604.9,705.8 1605.5,707.8 1606.0,709.7 1606.6,711.6 1607.2,713.5 1607.7,715.5 1608.3,717.4 1608.8,719.3 1609.4,721.2 1610.0,723.2 1610.5,725.1 1611.1,727.0 1611.6,728.9 1612.2,730.9 1612.8,732.8 1613.3,734.7 1613.9,736.6 1614.4,738.6 1615.0,740.5 1615.5,742.4 1616.1,744.4 1616.7,746.3 1617.2,748.2 1617.8,750.1 1618.3,752.1 1618.9,754.0 1619.4,755.9 1620.0,757.8 1620.6,759.7 1621.1,761.7 1621.7,763.6 1622.2,765.5 1622.8,767.4 1623.3,769.3 1623.9,771.3 1624.5,773.2 1625.0,775.1 1625.6,777.0 1626.1,778.9 1626.7,780.8 1627.3,782.7 1627.8,784.7 1628.4,786.6 1628.9,788.5 1629.5,790.4 1630.1,792.3 1630.6,794.2 1631.2,796.1 1631.8,798.0 1632.3,799.9 1632.9,801.8 1633.5,803.7 1634.0,805.6 1634.6,807.5 1635.2,809.4 1635.8,811.3 1636.3,813.2 1636.9,815.1 1637.5,816.9 1638.1,818.8 1638.7,820.7 1639.3,822.6 1639.9,824.5 1640.6,826.3 1641.3,828.2 1642.0,830.1 1642.7,831.9 1643.5,833.8 1644.3,835.6 1645.2,837.5 1646.1,839.3 1647.1,841.2 1648.2,843.0 1649.3,844.8 1650.4,846.6 1651.7,848.4 1653.0,850.1 1654.4,851.6 1655.9,853.0 1657.4,854.1 1659.1,854.9 1660.9,855.3 1662.7,855.5 1664.6,855.3 1666.4,854.9 1668.3,854.2 1670.0,853.3 1671.6,852.2 1673.1,850.9 1674.4,849.4 1675.6,847.8 1676.6,846.1 1677.6,844.3 1678.4,842.5 1679.2,840.6 1680.0,838.6 1680.7,836.6 1681.4,834.7 1682.1,832.7 1682.8,830.8 1683.4,828.8 1684.0,826.8 1684.7,824.9 1685.3,822.9 1685.8,821.0 1686.4,819.0 1687.0,817.1 1687.5,815.2 1688.1,813.2 1688.6,811.3 1689.1,809.3 1689.6,807.4 1690.1,805.4 1690.5,803.5 1691.0,801.6 1691.4,799.6 1691.9,797.7 1692.3,795.8 1692.7,793.8 1693.2,791.9 1693.6,789.9 1694.0,788.0 1694.3,786.1 1694.7,784.1 1695.1,782.2 1695.5,780.3 1695.8,778.3 1696.2,776.4 1696.5,774.4 1696.9,772.5 1697.2,770.5 1697.5,768.6 1697.9,766.7 1698.2,764.7 1698.5,762.8 1698.8,760.8 1699.2,758.9 1699.5,756.9 1699.8,754.9 1700.1,753.0 1700.4,751.0 1700.7,749.1 1701.0,747.1 1701.3,745.1 1701.6,743.2 1701.9,741.2 1702.2,739.2 1702.5,737.3 1702.8,735.3 1703.1,733.3 1703.4,731.3 1703.7,729.4 1703.9,727.4 1704.2,725.4 1704.5,723.4 1704.8,721.4 1705.1,719.5 1705.3,717.5 1705.6,715.5 1705.9,713.5 1706.2,711.5 1706.4,709.5 1706.7,707.6 1707.0,705.6 1707.2,703.6 1707.5,701.6 1707.8,699.6 1708.0,697.6 1708.3,695.6 1708.5,693.6 1708.8,691.6 1709.1,689.6 1709.3,687.6 1709.6,685.6 1709.8,683.6 1710.1,681.6 1710.3,679.7 1710.6,677.7 1710.8,675.7 1711.1,673.7 1711.3,671.7 1711.6,669.7 1711.8,667.7 1712.1,665.7 1712.3,663.7 1712.6,661.7 1712.8,659.7 1713.1,657.7 1713.3,655.7 1713.6,653.7 1713.8,651.7 1714.1,649.7 1714.3,647.7 1714.6,645.7 1714.8,643.7 1715.1,641.7 1715.3,639.7 1715.6,637.7 1715.8,635.7 1716.1,633.7 1716.3,631.7 1716.6,629.7 1716.8,627.7 1717.1,625.8 1717.3,623.8 1717.6,621.8 1717.8,619.8 1718.1,617.8 1718.3,615.8 1718.6,613.8 1718.8,611.8 1719.1,609.8 1719.3,607.9 1719.6,605.9 1719.9,603.9 1720.1,601.9 1720.4,599.9 1720.6,597.9 1720.9,595.9 1721.2,594.0 1721.4,592.0 1721.7,590.0 1721.9,588.0 1722.2,586.0 1722.5,584.1 1722.7,582.1 1723.0,580.1 1723.3,578.1 1723.5,576.1 1723.8,574.2 1724.1,572.2 1724.3,570.2 1724.6,568.2 1724.9,566.3 1725.2,564.3 1725.4,562.3 1725.7,560.3 1726.0,558.4 1726.2,556.4 1726.5,554.4 1726.8,552.4 1727.1,550.5 1727.3,548.5 1727.6,546.5 1727.9,544.5 1728.2,542.6 1728.5,540.6 1728.7,538.6 1729.0,536.7 1729.3,534.7 1729.6,532.7 1729.9,530.7 1730.2,528.8 1730.4,526.8 1730.7,524.8 1731.0,522.9 1731.3,520.9 1731.6,518.9 1731.9,516.9 1732.2,515.0 1732.5,513.0 1732.8,511.0 1733.1,509.1 1733.3,507.1 1733.6,505.1 1733.9,503.1 1734.2,501.2 1734.5,499.2 1734.8,497.2 1735.1,495.3 1735.4,493.3 1735.7,491.3 1736.0,489.3 1736.3,487.4 1736.6,485.4 1736.9,483.4 1737.3,481.4 1737.6,479.5 1737.9,477.5 1738.2,475.5 1738.5,473.6 1738.8,471.6 1739.1,469.6 1739.4,467.6 1739.7,465.7 1740.0,463.7 1740.4,461.7 1740.7,459.7 1741.0,457.7 1741.3,455.8 1741.6,453.8 1742.0,451.8 1742.3,449.8 1742.6,447.9 1742.9,445.9 1743.2,443.9 1743.6,441.9 1743.9,439.9 1744.2,438.0 1744.6,436.0 1744.9,434.0 1745.2,432.0 1745.5,430.0 1745.9,428.0 1746.2,426.1 1746.5,424.1 1746.9,422.1 1747.2,420.1 1747.5,418.1 1747.9,416.1 1748.2,414.1 1748.6,412.1 1748.9,410.2 1749.3,408.2 1749.6,406.2 1750.0,404.2 1750.3,402.2 1750.7,400.2 1751.0,398.2 1751.4,396.2 1751.8,394.3 1752.1,392.3 1752.5,390.3 1752.9,388.3 1753.3,386.3 1753.7,384.3 1754.1,382.4 1754.5,380.4 1754.9,378.4 1755.3,376.4 1755.7,374.5 1756.1,372.5 1756.5,370.5 1757.0,368.6 1757.4,366.6 1757.9,364.6 1758.3,362.7 1758.8,360.7 1759.2,358.8 1759.7,356.8 1760.2,354.9 1760.7,352.9 1761.2,351.0 1761.7,349.0 1762.2,347.1 1762.8,345.2 1763.3,343.2 1763.8,341.3 1764.4,339.4 1765.0,337.5 1765.6,335.6 1766.1,333.7 1766.7,331.8 1767.3,329.9 1768.0,328.0 1768.6,326.1 1769.2,324.2 1769.9,322.3 1770.6,320.4 1771.2,318.6 1771.9,316.7 1772.6,314.8 1773.3,313.0 1774.1,311.1 1774.8,309.3 1775.6,307.4 1776.3,305.6 1777.1,303.8 1777.9,302.0 1778.7,300.2 1779.6,298.3 1780.4,296.5 1781.2,294.8 1782.1,293.0 1783.0,291.2 1783.9,289.4 1784.8,287.6 1785.7,285.9 1786.7,284.1 1787.7,282.4 1788.6,280.6 1789.6,278.9 1790.7,277.2 1791.7,275.5 1792.7,273.8 1793.8,272.1 1794.9,270.4 1796.0,268.7 1797.1,267.0 1798.3,265.4 1799.4,263.7 1800.6,262.1 1801.8,260.5 1803.0,258.9 1804.3,257.3 1805.6,255.8 1806.9,254.3 1808.3,252.9 1809.7,251.5 1811.1,250.2 1812.6,249.0 1814.1,247.8 1815.7,246.7 1817.3,245.7 1818.9,244.7 1820.6,243.9 1822.4,243.1 1824.2,242.5 1826.1,241.9 1828.0,241.4 1830.0,241.0 1832.0,240.7 1834.0,240.4 1836.1,240.2 1838.2,240.1 1840.2,239.9 1842.4,239.8 1844.5,239.7 1846.6,239.6 1848.7,239.6 1850.8,239.5 1852.8,239.4 1854.9,239.3 1857.0,239.3 1859.1,239.2 1861.2,239.1 1863.2,239.1 1865.3,239.0 1867.3,239.0 1869.4,238.9 1871.4,238.8 1873.5,238.8 1875.5,238.7 1877.6,238.7 1879.6,238.6 1881.6,238.6 1883.7,238.6 1885.7,238.5 1887.7,238.5 1889.7,238.5 1891.8,238.4 1893.8,238.4 1895.8,238.4 1897.8,238.3 1899.8,238.3 1901.8,238.3 1903.8,238.3 1905.8,238.2 1907.8,238.2 1909.8,238.2 1911.8,238.2 1913.8,238.2 1915.8,238.1 1917.8,238.1 1919.8,238.1 1921.8,238.1 1923.7,238.1 1925.7,238.1 1927.7,238.1 1929.7,238.1 1931.7,238.1 1933.6,238.1 1935.6,238.1 1937.6,238.1 1939.6,238.1 1941.6,238.1 1943.5,238.1 1945.5,238.1 1947.5,238.1 1949.5,238.1 1951.5,238.1 1953.4,238.1 1955.4,238.1 1957.4,238.1 1959.4,238.1 1961.3,238.1 1963.3,238.1 1965.3,238.1 1967.3,238.1 1969.3,238.1 1971.3,238.1 1973.2,238.2 1975.2,238.2 1977.2,238.2 1979.2,238.2 1981.2,238.2 1983.2,238.2 1985.2,238.2 1987.1,238.2 1989.1,238.2 1991.1,238.3 1993.1,238.3 1995.1,238.3 1997.1,238.3 1999.1,238.3 2001.1,238.3 2003.1,238.3 2005.1,238.4 2007.1,238.4 2009.0,238.4 2011.0,238.4 2013.0,238.4 2015.0,238.4 2017.0,238.5 2019.0,238.5 2021.0,238.5 2023.0,238.5 2025.0,238.5 2027.0,238.6 2029.0,238.6 2031.0,238.6 2033.0,238.6 2035.0,238.6 2037.0,238.7 2039.0,238.7 2041.0,238.7 2043.0,238.7 2045.0,238.7 2047.0,238.8 2049.0,238.8 2051.0,238.8 2053.0,238.8 2055.0,238.9 2057.0,238.9 2059.0,238.9 2061.0,238.9 2063.0,239.0 2065.0,239.0 2067.0,239.0 2069.0,239.0 2071.1,239.1 2073.1,239.1 2075.1,239.1 2077.1,239.1 2079.1,239.2 2081.1,239.2 2083.1,239.2 2085.1,239.3 2087.1,239.3 2089.1,239.3 2091.1,239.3 2093.1,239.4 2095.1,239.4 2097.1,239.4 2099.1,239.5 2101.2,239.5 2103.2,239.5 2105.2,239.5 2107.2,239.6 2109.2,239.6 2111.2,239.6 2113.2,239.7 2115.2,239.7 2117.2,239.7 2119.2,239.8 2121.2,239.8 2123.2,239.8 2125.3,239.9 2127.3,239.9 2129.3,239.9 2131.3,239.9 2133.3,240.0 2135.3,240.0 2137.3,240.0 2139.3,240.1 2141.3,240.1 2143.3,240.1 2145.3,240.2 2147.4,240.2 2149.4,240.2 2151.4,240.3 2153.4,240.3 2155.4,240.3 2157.4,240.4 2159.4,240.4 2161.4,240.4 2163.4,240.5 2165.4,240.5 2167.4,240.5 2169.4,240.6 2171.5,240.6 2173.5,240.6 2175.5,240.7 2177.5,240.7 2179.5,240.7 2181.5,240.8 2183.5,240.8 2185.5,240.8 2187.5,240.9 2189.5,240.9 2191.5,240.9 2193.5,241.0 2195.5,241.0 2197.5,241.0 2199.6,241.1 2201.6,241.1 2203.6,241.1 2205.6,241.2 2207.6,241.2 2209.6,241.2 2211.6,241.3 2213.6,241.3 2215.6,241.3 2217.6,241.4 2219.6,241.4 2221.6,241.4 2223.6,241.5 2225.6,241.5 2227.6,241.5 2229.6,241.6 2231.6,241.6 2233.6,241.6 2235.6,241.7 2237.6,241.7 2239.6,241.7 2241.6,241.8 2243.6,241.8 2245.6,241.8 2247.6,241.9 2249.6,241.9 2251.6,241.9 2253.6,242.0 2255.6,242.0 2257.6,242.0 2259.6,242.1 2261.6,242.1 2263.6,242.1 2265.6,242.2 2267.6,242.2 2269.6,242.2 2271.5,242.2 2273.5,242.3 2275.5,242.3 2277.5,242.3 2279.5,242.4 2281.5,242.4 2283.5,242.4 2285.5,242.5 2287.5,242.5 2289.5,242.5 2291.4,242.5 2293.4,242.6 2295.4,242.6 2297.4,242.6" fill="none" stroke="#549c1a" stroke-width="12" stroke-linecap="round" stroke-linejoin="round"/>
<path d="M240.9,180.6L242.9,180.7 244.9,180.8 247.0,180.9 249.0,181.0 251.0,181.1 253.0,181.3 255.0,181.4 257.1,181.5 259.1,181.6 261.1,181.7 263.1,181.8 265.2,181.9 267.2,182.0 269.2,182.1 271.2,182.2 273.2,182.3 275.3,182.4 277.3,182.5 279.3,182.6 281.3,182.7 283.3,182.8 285.3,182.9 287.4,183.0 289.4,183.1 291.4,183.2 293.4,183.3 295.4,183.4 297.4,183.5 299.5,183.6 301.5,183.7 303.5,183.8 305.5,183.9 307.5,184.0 309.5,184.1 311.6,184.2 313.6,184.3 315.6,184.4 317.6,184.5 319.6,184.6 321.6,184.7 323.6,184.8 325.6,184.9 327.7,185.0 329.7,185.1 331.7,185.2 333.7,185.3 335.7,185.4 337.7,185.5 339.7,185.6 341.7,185.7 343.8,185.8 345.8,185.9 347.8,186.0 349.8,186.0 351.8,186.1 353.8,186.2 355.8,186.3 357.8,186.4 359.8,186.5 361.8,186.6 363.8,186.7 365.9,186.8 367.9,186.9 369.9,187.0 371.9,187.1 373.9,187.1 375.9,187.2 377.9,187.3 379.9,187.4 381.9,187.5 383.9,187.6 385.9,187.7 387.9,187.8 389.9,187.9 391.9,188.0 393.9,188.1 396.0,188.1 398.0,188.2 400.0,188.3 402.0,188.4 404.0,188.5 406.0,188.6 408.0,188.7 410.0,188.8 412.0,188.9 414.0,188.9 416.0,189.0 418.0,189.1 420.0,189.2 422.0,189.3 424.0,189.4 426.0,189.5 428.0,189.6 430.0,189.6 432.0,189.7 434.0,189.8 436.0,189.9 438.0,190.0 440.0,190.1 442.0,190.2 444.0,190.3 446.0,190.3 448.0,190.4 450.0,190.5 452.0,190.6 454.0,190.7 456.0,190.8 458.0,190.9 460.0,191.0 462.0,191.0 464.0,191.1 466.0,191.2 468.0,191.3 470.0,191.4 472.0,191.5 474.0,191.6 476.0,191.7 478.0,191.7 480.0,191.8 482.0,191.9 484.0,192.0 486.0,192.1 488.0,192.2 490.0,192.3 492.0,192.4 494.0,192.4 496.0,192.5 498.0,192.6 500.0,192.7 502.0,192.8 504.0,192.9 506.0,193.0 508.0,193.1 509.9,193.1 511.9,193.2 513.9,193.3 515.9,193.4 517.9,193.5 519.9,193.6 521.9,193.7 523.9,193.8 525.9,193.9 527.9,193.9 529.9,194.0 531.9,194.1 533.9,194.2 535.9,194.3 537.9,194.4 539.9,194.5 541.9,194.6 543.9,194.7 545.9,194.8 547.8,194.8 549.8,194.9 551.8,195.0 553.8,195.1 555.8,195.2 557.8,195.3 559.8,195.4 561.8,195.5 563.8,195.6 565.8,195.7 567.8,195.8 569.8,195.9 571.8,195.9 573.8,196.0 575.7,196.1 577.7,196.2 579.7,196.3 581.7,196.4 583.7,196.5 585.7,196.6 587.7,196.7 589.7,196.8 591.7,196.9 593.7,197.0 595.7,197.1 597.7,197.2 599.6,197.3 601.6,197.4 603.6,197.5 605.6,197.6 607.6,197.7 609.6,197.8 611.6,197.9 613.6,197.9 615.6,198.0 617.6,198.1 619.6,198.2 621.5,198.3 623.5,198.4 625.5,198.5 627.5,198.6 629.5,198.7 631.5,198.8 633.5,198.9 635.5,199.0 637.5,199.1 639.5,199.2 641.4,199.4 643.4,199.5 645.4,199.6 647.4,199.7 649.4,199.8 651.4,199.9 653.4,200.0 655.4,200.1 657.4,200.2 659.4,200.3 661.3,200.4 663.3,200.5 665.3,200.6 667.3,200.7 669.3,200.8 671.3,200.9 673.3,201.0 675.3,201.1 677.3,201.3 679.3,201.4 681.2,201.5 683.2,201.6 685.2,201.7 687.2,201.8 689.2,201.9 691.2,202.0 693.2,202.1 695.2,202.2 697.2,202.4 699.2,202.5 701.1,202.6 703.1,202.7 705.1,202.8 707.1,202.9 709.1,203.0 711.1,203.2 713.1,203.3 715.1,203.4 717.1,203.5 719.0,203.6 721.0,203.8 723.0,203.9 725.0,204.0 727.0,204.1 729.0,204.2 731.0,204.4 733.0,204.5 735.0,204.6 737.0,204.7 738.9,204.8 740.9,205.0 742.9,205.1 744.9,205.2 746.9,205.3 748.9,205.5 750.9,205.6 752.9,205.7 754.9,205.8 756.9,206.0 758.8,206.1 760.8,206.2 762.8,206.4 764.8,206.5 766.8,206.6 768.8,206.8 770.8,206.9 772.8,207.0 774.8,207.2 776.8,207.3 778.7,207.4 780.7,207.6 782.7,207.7 784.7,207.8 786.7,208.0 788.7,208.1 790.7,208.2 792.7,208.4 794.7,208.5 796.7,208.7 798.7,208.8 800.6,208.9 802.6,209.1 804.6,209.2 806.6,209.4 808.6,209.5 810.6,209.7 812.6,209.8 814.6,209.9 816.6,210.1 818.6,210.2 820.6,210.4 822.6,210.5 824.5,210.7 826.5,210.8 828.5,211.0 830.5,211.1 832.5,211.3 834.5,211.4 836.5,211.6 838.5,211.7 840.5,211.9 842.5,212.1 844.5,212.2 846.5,212.4 848.5,212.5 850.4,212.7 852.4,212.8 854.4,213.0 856.4,213.2 858.4,213.3 860.4,213.5 862.4,213.6 864.4,213.8 866.4,214.0 868.4,214.1 870.4,214.3 872.4,214.5 874.4,214.6 876.4,214.8 878.4,215.0 880.4,215.1 882.3,215.3 884.3,215.5 886.3,215.7 888.3,215.8 890.3,216.0 892.3,216.2 894.3,216.3 896.3,216.5 898.3,216.7 900.3,216.9 902.3,217.1 904.3,217.2 906.3,217.4 908.3,217.6 910.3,217.8 912.3,218.0 914.3,218.1 916.3,218.3 918.3,218.5 920.3,218.7 922.3,218.9 924.3,219.1 926.3,219.3 928.3,219.4 930.3,219.6 932.3,219.8 934.3,220.0 936.3,220.2 938.3,220.4 940.3,220.6 942.3,220.8 944.3,221.0 946.2,221.2 948.2,221.4 950.2,221.6 952.2,221.8 954.2,222.0 956.2,222.2 958.2,222.4 960.2,222.6 962.2,222.8 964.2,223.0 966.3,223.2 968.3,223.4 970.3,223.6 972.3,223.8 974.3,224.1 976.3,224.3 978.3,224.5 980.3,224.7 982.3,224.9 984.3,225.1 986.3,225.3 988.3,225.6 990.3,225.8 992.3,226.0 994.3,226.2 996.3,226.4 998.3,226.7 1000.3,226.9 1002.3,227.1 1004.3,227.3 1006.3,227.6 1008.3,227.8 1010.3,228.0 1012.3,228.2 1014.3,228.5 1016.3,228.7 1018.3,228.9 1020.3,229.2 1022.3,229.4 1024.4,229.6 1026.4,229.9 1028.4,230.1 1030.4,230.4 1032.4,230.6 1034.4,230.8 1036.4,231.1 1038.4,231.3 1040.4,231.6 1042.4,231.8 1044.4,232.1 1046.4,232.3 1048.4,232.6 1050.5,232.8 1052.5,233.1 1054.5,233.3 1056.5,233.6 1058.5,233.8 1060.5,234.1 1062.5,234.3 1064.5,234.6 1066.5,234.8 1068.5,235.1 1070.6,235.4 1072.6,235.6 1074.6,235.9 1076.6,236.2 1078.6,236.4 1080.6,236.7 1082.6,237.0 1084.6,237.2 1086.6,237.5 1088.7,237.8 1090.7,238.1 1092.7,238.3 1094.7,238.6 1096.7,238.9 1098.7,239.2 1100.7,239.5 1102.7,239.8 1104.7,240.1 1106.7,240.4 1108.7,240.7 1110.8,241.0 1112.8,241.3 1114.8,241.6 1116.8,241.9 1118.8,242.2 1120.8,242.5 1122.8,242.8 1124.8,243.1 1126.8,243.5 1128.8,243.8 1130.8,244.1 1132.8,244.5 1134.8,244.8 1136.8,245.1 1138.7,245.5 1140.7,245.8 1142.7,246.2 1144.7,246.5 1146.7,246.9 1148.7,247.2 1150.7,247.6 1152.7,248.0 1154.6,248.3 1156.6,248.7 1158.6,249.1 1160.6,249.5 1162.6,249.9 1164.5,250.3 1166.5,250.7 1168.5,251.1 1170.4,251.5 1172.4,251.9 1174.4,252.3 1176.3,252.7 1178.3,253.2 1180.3,253.6 1182.2,254.0 1184.2,254.5 1186.1,254.9 1188.1,255.4 1190.0,255.8 1192.0,256.3 1193.9,256.7 1195.9,257.2 1197.8,257.7 1199.7,258.2 1201.7,258.6 1203.6,259.1 1205.5,259.6 1207.5,260.1 1209.4,260.6 1211.3,261.2 1213.2,261.7 1215.2,262.2 1217.1,262.7 1219.0,263.3 1220.9,263.8 1222.8,264.4 1224.7,264.9 1226.6,265.5 1228.5,266.1 1230.4,266.6 1232.3,267.2 1234.2,267.8 1236.1,268.4 1237.9,269.0 1239.8,269.6 1241.7,270.2 1243.6,270.9 1245.4,271.5 1247.3,272.1 1249.2,272.8 1251.0,273.4 1252.9,274.1 1254.7,274.7 1256.6,275.4 1258.4,276.1 1260.3,276.8 1262.1,277.5 1263.9,278.2 1265.8,278.9 1267.6,279.6 1269.4,280.3 1271.2,281.1 1273.1,281.8 1274.9,282.6 1276.7,283.3 1278.5,284.1 1280.3,284.9 1282.1,285.6 1283.9,286.4 1285.7,287.2 1287.4,288.0 1289.2,288.9 1291.0,289.7 1292.8,290.5 1294.5,291.3 1296.3,292.2 1298.1,293.1 1299.8,293.9 1301.6,294.8 1303.3,295.7 1305.0,296.6 1306.8,297.5 1308.5,298.4 1310.2,299.3 1312.0,300.2 1313.7,301.2 1315.4,302.1 1317.1,303.1 1318.8,304.1 1320.5,305.0 1322.2,306.0 1323.9,307.0 1325.6,308.0 1327.2,309.0 1328.9,310.1 1330.6,311.1 1332.2,312.2 1333.9,313.2 1335.5,314.3 1337.2,315.4 1338.8,316.4 1340.5,317.5 1342.1,318.6 1343.7,319.8 1345.3,320.9 1347.0,322.0 1348.6,323.2 1350.2,324.3 1351.8,325.5 1353.4,326.7 1354.9,327.9 1356.5,329.1 1358.1,330.3 1359.7,331.5 1361.2,332.8 1362.8,334.0 1364.3,335.3 1365.9,336.6 1367.4,337.8 1369.0,339.1 1370.5,340.4 1372.0,341.8 1373.5,343.1 1375.0,344.4 1376.5,345.8 1378.0,347.1 1379.5,348.5 1381.0,349.9 1382.5,351.3 1383.9,352.7 1385.4,354.1 1386.9,355.6 1388.3,357.0 1389.8,358.5 1391.2,359.9 1392.6,361.4 1394.0,362.9 1395.5,364.4 1396.9,365.9 1398.3,367.4 1399.7,368.9 1401.1,370.4 1402.4,372.0 1403.8,373.5 1405.2,375.0 1406.5,376.6 1407.9,378.1 1409.2,379.7 1410.6,381.3 1411.9,382.9 1413.2,384.4 1414.5,386.0 1415.8,387.6 1417.1,389.2 1418.4,390.8 1419.7,392.4 1420.9,394.0 1422.2,395.6 1423.5,397.2 1424.7,398.8 1425.9,400.5 1427.2,402.1 1428.4,403.7 1429.6,405.3 1430.8,406.9 1432.0,408.6 1433.2,410.2 1434.4,411.8 1435.5,413.5 1436.7,415.1 1437.8,416.8 1439.0,418.4 1440.1,420.0 1441.3,421.7 1442.4,423.3 1443.5,425.0 1444.6,426.7 1445.7,428.3 1446.8,430.0 1447.9,431.7 1449.0,433.3 1450.0,435.0 1451.1,436.7 1452.2,438.3 1453.2,440.0 1454.3,441.7 1455.3,443.4 1456.3,445.1 1457.4,446.8 1458.4,448.5 1459.4,450.2 1460.4,451.9 1461.4,453.6 1462.4,455.3 1463.4,457.0 1464.4,458.7 1465.3,460.4 1466.3,462.1 1467.3,463.8 1468.2,465.6 1469.2,467.3 1470.1,469.0 1471.0,470.7 1472.0,472.5 1472.9,474.2 1473.8,475.9 1474.7,477.7 1475.6,479.4 1476.5,481.2 1477.4,482.9 1478.3,484.7 1479.2,486.4 1480.1,488.2 1481.0,490.0 1481.9,491.7 1482.7,493.5 1483.6,495.3 1484.4,497.0 1485.3,498.8 1486.1,500.6 1487.0,502.4 1487.8,504.2 1488.7,506.0 1489.5,507.8 1490.3,509.6 1491.1,511.4 1492.0,513.2 1492.8,515.0 1493.6,516.8 1494.4,518.6 1495.2,520.4 1496.0,522.2 1496.8,524.0 1497.6,525.9 1498.3,527.7 1499.1,529.5 1499.9,531.3 1500.7,533.2 1501.4,535.0 1502.2,536.9 1503.0,538.7 1503.7,540.6 1504.5,542.4 1505.2,544.3 1506.0,546.1 1506.7,548.0 1507.5,549.9 1508.2,551.7 1509.0,553.6 1509.7,555.5 1510.4,557.3 1511.1,559.2 1511.9,561.1 1512.6,563.0 1513.3,564.9 1514.0,566.8 1514.8,568.7 1515.5,570.6 1516.2,572.5 1516.9,574.4 1517.6,576.3 1518.3,578.2 1519.0,580.1 1519.7,582.0 1520.5,583.9 1521.2,585.8 1521.9,587.7 1522.6,589.6 1523.3,591.5 1524.0,593.4 1524.7,595.3 1525.4,597.2 1526.2,599.0 1526.9,600.9 1527.6,602.8 1528.3,604.7 1529.0,606.6 1529.7,608.5 1530.5,610.3 1531.2,612.2 1531.9,614.1 1532.7,615.9 1533.4,617.8 1534.1,619.7 1534.9,621.5 1535.6,623.4 1536.4,625.2 1537.1,627.0 1537.9,628.9 1538.7,630.7 1539.4,632.5 1540.2,634.3 1541.0,636.1 1541.8,637.9 1542.6,639.7 1543.5,641.5 1544.4,643.2 1545.3,645.0 1546.2,646.7 1547.2,648.5 1548.2,650.2 1549.2,651.9 1550.3,653.6 1551.4,655.3 1552.6,656.9 1553.8,658.6 1555.1,660.2 1556.4,661.8 1557.8,663.4 1559.3,665.0 1560.8,666.4 1562.4,667.7 1564.0,668.9 1565.7,669.9 1567.5,670.7 1569.3,671.2 1571.2,671.5 1573.1,671.5 1575.0,671.3 1576.9,670.9 1578.7,670.3 1580.5,669.6 1582.1,668.7 1583.8,667.7 1585.3,666.5 1586.8,665.2 1588.2,663.9 1589.6,662.4 1590.9,660.8 1592.2,659.2 1593.4,657.4 1594.6,655.7 1595.7,653.9 1596.9,652.0 1597.9,650.2 1599.0,648.3 1600.0,646.4 1601.0,644.5 1602.0,642.7 1602.9,640.8 1603.8,638.9 1604.7,637.1 1605.6,635.2 1606.5,633.4 1607.3,631.6 1608.1,629.7 1608.9,627.9 1609.7,626.1 1610.4,624.2 1611.2,622.4 1611.9,620.6 1612.6,618.7 1613.3,616.9 1614.0,615.1 1614.6,613.3 1615.3,611.4 1615.9,609.6 1616.6,607.8 1617.2,605.9 1617.8,604.1 1618.4,602.3 1619.0,600.4 1619.5,598.6 1620.1,596.8 1620.7,594.9 1621.2,593.1 1621.8,591.2 1622.3,589.3 1622.8,587.5 1623.4,585.6 1623.9,583.7 1624.4,581.9 1624.9,580.0 1625.5,578.1 1626.0,576.2 1626.5,574.3 1627.0,572.4 1627.5,570.5 1628.0,568.6 1628.5,566.6 1628.9,564.7 1629.4,562.8 1629.9,560.9 1630.4,559.0 1630.9,557.0 1631.3,555.1 1631.8,553.1 1632.2,551.2 1632.7,549.2 1633.1,547.3 1633.6,545.3 1634.0,543.4 1634.5,541.4 1634.9,539.5 1635.4,537.5 1635.8,535.5 1636.2,533.6 1636.6,531.6 1637.1,529.6 1637.5,527.6 1637.9,525.7 1638.3,523.7 1638.7,521.7 1639.1,519.7 1639.5,517.7 1639.9,515.8 1640.3,513.8 1640.7,511.8 1641.1,509.8 1641.5,507.8 1641.9,505.8 1642.3,503.8 1642.7,501.8 1643.1,499.8 1643.5,497.8 1643.8,495.8 1644.2,493.8 1644.6,491.8 1645.0,489.8 1645.3,487.8 1645.7,485.8 1646.1,483.8 1646.4,481.8 1646.8,479.8 1647.2,477.8 1647.5,475.8 1647.9,473.8 1648.2,471.8 1648.6,469.9 1648.9,467.9 1649.3,465.9 1649.6,463.9 1650.0,461.9 1650.3,459.9 1650.7,457.9 1651.0,455.9 1651.4,453.9 1651.7,451.9 1652.1,449.9 1652.4,448.0 1652.8,446.0 1653.1,444.0 1653.5,442.0 1653.8,440.0 1654.1,438.1 1654.5,436.1 1654.8,434.1 1655.2,432.2 1655.5,430.2 1655.9,428.2 1656.2,426.2 1656.6,424.3 1656.9,422.3 1657.3,420.3 1657.6,418.4 1658.0,416.4 1658.3,414.5 1658.7,412.5 1659.0,410.5 1659.4,408.6 1659.8,406.6 1660.1,404.7 1660.5,402.7 1660.9,400.8 1661.2,398.8 1661.6,396.9 1662.0,394.9 1662.4,393.0 1662.8,391.0 1663.2,389.1 1663.6,387.2 1663.9,385.2 1664.3,383.3 1664.8,381.3 1665.2,379.4 1665.6,377.5 1666.0,375.5 1666.4,373.6 1666.8,371.7 1667.3,369.7 1667.7,367.8 1668.2,365.9 1668.6,363.9 1669.1,362.0 1669.5,360.1 1670.0,358.1 1670.4,356.2 1670.9,354.3 1671.4,352.4 1671.9,350.5 1672.4,348.5 1672.9,346.6 1673.4,344.7 1673.9,342.8 1674.4,340.9 1675.0,339.0 1675.5,337.0 1676.0,335.1 1676.6,333.2 1677.1,331.3 1677.7,329.4 1678.3,327.5 1678.9,325.6 1679.4,323.7 1680.0,321.8 1680.6,319.9 1681.3,318.0 1681.9,316.1 1682.5,314.2 1683.1,312.3 1683.8,310.4 1684.5,308.5 1685.1,306.6 1685.8,304.7 1686.5,302.8 1687.2,300.9 1687.9,299.0 1688.6,297.1 1689.3,295.2 1690.1,293.3 1690.8,291.4 1691.6,289.5 1692.3,287.6 1693.1,285.7 1693.9,283.8 1694.7,282.0 1695.5,280.1 1696.3,278.2 1697.2,276.3 1698.0,274.4 1698.9,272.5 1699.7,270.7 1700.6,268.8 1701.5,267.0 1702.5,265.1 1703.4,263.3 1704.3,261.4 1705.3,259.6 1706.3,257.8 1707.3,256.1 1708.3,254.3 1709.4,252.6 1710.4,250.8 1711.5,249.1 1712.6,247.5 1713.7,245.8 1714.9,244.2 1716.1,242.6 1717.3,241.1 1718.5,239.5 1719.8,238.0 1721.0,236.6 1722.3,235.1 1723.7,233.7 1725.0,232.4 1726.4,231.1 1727.8,229.8 1729.3,228.6 1730.8,227.4 1732.3,226.3 1733.8,225.2 1735.4,224.1 1737.0,223.1 1738.7,222.2 1740.3,221.3 1742.0,220.5 1743.8,219.7 1745.6,218.9 1747.4,218.3 1749.3,217.7 1751.1,217.1 1753.1,216.6 1755.0,216.1 1757.0,215.6 1758.9,215.2 1760.9,214.9 1762.9,214.5 1765.0,214.2 1767.0,213.9 1769.0,213.6 1771.0,213.4 1773.1,213.1 1775.1,212.9 1777.2,212.6 1779.2,212.4 1781.2,212.2 1783.2,212.0 1785.3,211.8 1787.3,211.6 1789.3,211.4 1791.3,211.3 1793.3,211.1 1795.4,210.9 1797.4,210.8 1799.4,210.7 1801.4,210.5 1803.4,210.4 1805.4,210.3 1807.4,210.1 1809.4,210.0 1811.4,209.9 1813.4,209.8 1815.4,209.7 1817.4,209.7 1819.4,209.6 1821.4,209.5 1823.4,209.4 1825.4,209.4 1827.4,209.3 1829.4,209.2 1831.4,209.2 1833.4,209.2 1835.4,209.1 1837.4,209.1 1839.4,209.0 1841.4,209.0 1843.4,209.0 1845.3,209.0 1847.3,208.9 1849.3,208.9 1851.3,208.9 1853.3,208.9 1855.3,208.9 1857.3,208.9 1859.3,208.9 1861.2,208.9 1863.2,208.9 1865.2,208.9 1867.2,208.9 1869.2,208.9 1871.2,208.9 1873.2,208.9 1875.2,208.9 1877.2,208.9 1879.1,208.9 1881.1,208.9 1883.1,209.0 1885.1,209.0 1887.1,209.0 1889.1,209.0 1891.1,209.0 1893.1,209.0 1895.1,209.0 1897.1,209.0 1899.1,209.1 1901.1,209.1 1903.1,209.1 1905.1,209.1 1907.1,209.1 1909.1,209.1 1911.1,209.1 1913.1,209.2 1915.1,209.2 1917.1,209.2 1919.1,209.2 1921.1,209.2 1923.1,209.2 1925.1,209.2 1927.1,209.3 1929.1,209.3 1931.1,209.3 1933.1,209.3 1935.1,209.3 1937.1,209.3 1939.1,209.3 1941.1,209.4 1943.1,209.4 1945.1,209.4 1947.1,209.4 1949.1,209.4 1951.1,209.4 1953.1,209.5 1955.2,209.5 1957.2,209.5 1959.2,209.5 1961.2,209.5 1963.2,209.6 1965.2,209.6 1967.2,209.6 1969.2,209.6 1971.2,209.6 1973.2,209.6 1975.2,209.7 1977.2,209.7 1979.2,209.7 1981.2,209.7 1983.3,209.8 1985.3,209.8 1987.3,209.8 1989.3,209.8 1991.3,209.8 1993.3,209.9 1995.3,209.9 1997.3,209.9 1999.3,209.9 2001.3,209.9 2003.3,210.0 2005.3,210.0 2007.3,210.0 2009.3,210.0 2011.3,210.1 2013.3,210.1 2015.4,210.1 2017.4,210.1 2019.4,210.2 2021.4,210.2 2023.4,210.2 2025.4,210.2 2027.4,210.3 2029.4,210.3 2031.4,210.3 2033.4,210.4 2035.4,210.4 2037.4,210.4 2039.4,210.4 2041.4,210.5 2043.4,210.5 2045.4,210.5 2047.4,210.5 2049.4,210.6 2051.4,210.6 2053.4,210.6 2055.4,210.7 2057.4,210.7 2059.4,210.7 2061.4,210.7 2063.4,210.8 2065.4,210.8 2067.4,210.8 2069.4,210.9 2071.4,210.9 2073.4,210.9 2075.4,211.0 2077.4,211.0 2079.4,211.0 2081.4,211.0 2083.4,211.1 2085.4,211.1 2087.4,211.1 2089.4,211.2 2091.4,211.2 2093.4,211.2 2095.4,211.3 2097.4,211.3 2099.4,211.3 2101.4,211.4 2103.4,211.4 2105.4,211.4 2107.4,211.4 2109.4,211.5 2111.4,211.5 2113.4,211.5 2115.4,211.6 2117.4,211.6 2119.4,211.6 2121.4,211.7 2123.4,211.7 2125.4,211.7 2127.4,211.8 2129.4,211.8 2131.4,211.8 2133.4,211.9 2135.4,211.9 2137.4,211.9 2139.4,211.9 2141.4,212.0 2143.4,212.0 2145.4,212.0 2147.4,212.1 2149.4,212.1 2151.4,212.1 2153.4,212.2 2155.4,212.2 2157.4,212.2 2159.4,212.3 2161.4,212.3 2163.4,212.3 2165.4,212.3 2167.4,212.4 2169.4,212.4 2171.4,212.4 2173.4,212.5 2175.4,212.5 2177.4,212.5 2179.4,212.6 2181.4,212.6 2183.4,212.6 2185.4,212.6 2187.4,212.7 2189.4,212.7 2191.4,212.7 2193.4,212.8 2195.4,212.8 2197.4,212.8 2199.4,212.8 2201.4,212.9 2203.4,212.9 2205.4,212.9 2207.4,213.0 2209.4,213.0 2211.4,213.0 2213.4,213.0 2215.4,213.1 2217.4,213.1 2219.4,213.1 2221.4,213.1 2223.4,213.2 2225.4,213.2 2227.4,213.2 2229.4,213.3 2231.4,213.3 2233.4,213.3 2235.4,213.3 2237.4,213.3 2239.4,213.4 2241.4,213.4 2243.4,213.4 2245.4,213.4 2247.4,213.5 2249.4,213.5 2251.4,213.5 2253.4,213.5 2255.4,213.6 2257.4,213.6 2259.4,213.6 2261.4,213.6 2263.4,213.6 2265.4,213.7 2267.5,213.7 2269.5,213.7 2271.5,213.7 2273.5,213.7 2275.5,213.8 2277.5,213.8 2279.5,213.8 2281.5,213.8 2283.5,213.8 2285.5,213.8 2287.5,213.9 2289.5,213.9 2291.5,213.9 2293.5,213.9 2295.5,213.9 2297.5,213.9" fill="none" stroke="#fa4511" stroke-width="12" stroke-linecap="round" stroke-linejoin="round"/>
<text x="225.5" y="63.0" text-anchor="end" font-size="54.5" font-family="'Liberation Serif', 'DejaVu Serif', serif" font-weight="bold" textLength="69.5" lengthAdjust="spacingAndGlyphs">0.0</text>
<text x="225.5" y="164.0" text-anchor="end" font-size="54.5" font-family="'Liberation Serif', 'DejaVu Serif', serif" font-weight="bold" textLength="97.0" lengthAdjust="spacingAndGlyphs"><tspan dy="3">−</tspan><tspan dy="-3">0.5</tspan></text>
<text x="225.5" y="265.0" text-anchor="end" font-size="54.5" font-family="'Liberation Serif', 'DejaVu Serif', serif" font-weight="bold" textLength="97.0" lengthAdjust="spacingAndGlyphs"><tspan dy="3">−</tspan><tspan dy="-3">1.0</tspan></text>
<text x="225.5" y="366.0" text-anchor="end" font-size="54.5" font-family="'Liberation Serif', 'DejaVu Serif', serif" font-weight="bold" textLength="97.0" lengthAdjust="spacingAndGlyphs"><tspan dy="3">−</tspan><tspan dy="-3">1.5</tspan></text>
<text x="225.5" y="467.0" text-anchor="end" font-size="54.5" font-family="'Liberation Serif', 'DejaVu Serif', serif" font-weight="bold" textLength="97.0" lengthAdjust="spacingAndGlyphs"><tspan dy="3">−</tspan><tspan dy="-3">2.0</tspan></text>
<text x="225.5" y="568.0" text-anchor="end" font-size="54.5" font-family="'Liberation Serif', 'DejaVu Serif', serif" font-weight="bold" textLength="97.0" lengthAdjust="spacingAndGlyphs"><tspan dy="3">−</tspan><tspan dy="-3">2.5</tspan></text>
<text x="225.5" y="669.0" text-anchor="end" font-size="54.5" font-family="'Liberation Serif', 'DejaVu Serif', serif" font-weight="bold" textLength="97.0" lengthAdjust="spacingAndGlyphs"><tspan dy="3">−</tspan><tspan dy="-3">3.0</tspan></text>
<text x="225.5" y="770.0" text-anchor="end" font-size="54.5" font-family="'Liberation Serif', 'DejaVu Serif', serif" font-weight="bold" textLength="97.0" lengthAdjust="spacingAndGlyphs"><tspan dy="3">−</tspan><tspan dy="-3">3.5</tspan></text>
<text x="225.5" y="871.0" text-anchor="end" font-size="54.5" font-family="'Liberation Serif', 'DejaVu Serif', serif" font-weight="bold" textLength="97.0" lengthAdjust="spacingAndGlyphs"><tspan dy="3">−</tspan><tspan dy="-3">4.0</tspan></text>
<text x="225.5" y="972.0" text-anchor="end" font-size="54.5" font-family="'Liberation Serif', 'DejaVu Serif', serif" font-weight="bold" textLength="97.0" lengthAdjust="spacingAndGlyphs"><tspan dy="3">−</tspan><tspan dy="-3">4.5</tspan></text>
<text x="239.4" y="1015.5" text-anchor="middle" font-size="54.5" font-family="'Liberation Serif', 'DejaVu Serif', serif" font-weight="bold" textLength="53.0" lengthAdjust="spacingAndGlyphs">65</text>
<text x="445.1" y="1015.5" text-anchor="middle" font-size="54.5" font-family="'Liberation Serif', 'DejaVu Serif', serif" font-weight="bold" textLength="53.0" lengthAdjust="spacingAndGlyphs">75</text>
<text x="650.7" y="1015.5" text-anchor="middle" font-size="54.5" font-family="'Liberation Serif', 'DejaVu Serif', serif" font-weight="bold" textLength="53.0" lengthAdjust="spacingAndGlyphs">85</text>
<text x="856.4" y="1015.5" text-anchor="middle" font-size="54.5" font-family="'Liberation Serif', 'DejaVu Serif', serif" font-weight="bold" textLength="53.0" lengthAdjust="spacingAndGlyphs">95</text>
<text x="1062.0" y="1015.5" text-anchor="middle" font-size="54.5" font-family="'Liberation Serif', 'DejaVu Serif', serif" font-weight="bold" textLength="84.0" lengthAdjust="spacingAndGlyphs">105</text>
<text x="1267.7" y="1015.5" text-anchor="middle" font-size="54.5" font-family="'Liberation Serif', 'DejaVu Serif', serif" font-weight="bold" textLength="84.0" lengthAdjust="spacingAndGlyphs">115</text>
<text x="1473.4" y="1015.5" text-anchor="middle" font-size="54.5" font-family="'Liberation Serif', 'DejaVu Serif', serif" font-weight="bold" textLength="84.0" lengthAdjust="spacingAndGlyphs">125</text>
<text x="1679.0" y="1015.5" text-anchor="middle" font-size="54.5" font-family="'Liberation Serif', 'DejaVu Serif', serif" font-weight="bold" textLength="84.0" lengthAdjust="spacingAndGlyphs">135</text>
<text x="1884.7" y="1015.5" text-anchor="middle" font-size="54.5" font-family="'Liberation Serif', 'DejaVu Serif', serif" font-weight="bold" textLength="84.0" lengthAdjust="spacingAndGlyphs">145</text>
<text x="2090.3" y="1015.5" text-anchor="middle" font-size="54.5" font-family="'Liberation Serif', 'DejaVu Serif', serif" font-weight="bold" textLength="84.0" lengthAdjust="spacingAndGlyphs">155</text>
<text x="2296.0" y="1015.5" text-anchor="middle" font-size="54.5" font-family="'Liberation Serif', 'DejaVu Serif', serif" font-weight="bold" textLength="84.0" lengthAdjust="spacingAndGlyphs">165</text>
<text x="1056.6" y="1083" font-size="57.5" font-family="'Liberation Serif', 'DejaVu Serif', serif" font-weight="bold" textLength="425.5" lengthAdjust="spacingAndGlyphs">Temperature [°C]</text>
<text transform="translate(60.5,693) rotate(-90)" x="0" y="0" font-size="57.5" font-family="'Liberation Serif', 'DejaVu Serif', serif" font-weight="bold" textLength="399" lengthAdjust="spacingAndGlyphs">Heat Flow [W/g]</text>
<line x1="1908.5" y1="431.0" x2="1959" y2="431.0" stroke="#fa4511" stroke-width="12" stroke-linecap="round"/>
<text x="1973.4" y="444.3" font-size="67" font-family="'Liberation Serif', 'DejaVu Serif', serif" font-weight="bold" textLength="192.7" lengthAdjust="spacingAndGlyphs">PERT1</text>
<line x1="1908.5" y1="508.0" x2="1959" y2="508.0" stroke="#549c1a" stroke-width="12" stroke-linecap="round"/>
<text x="1973.4" y="521.3" font-size="67" font-family="'Liberation Serif', 'DejaVu Serif', serif" font-weight="bold" textLength="223.2" lengthAdjust="spacingAndGlyphs">PERT1a</text>
<line x1="1908.5" y1="585.0" x2="1959" y2="585.0" stroke="#4a1f70" stroke-width="12" stroke-linecap="round"/>
<text x="1973.4" y="598.3" font-size="67" font-family="'Liberation Serif', 'DejaVu Serif', serif" font-weight="bold" textLength="230.0" lengthAdjust="spacingAndGlyphs">PERT1b</text>
</g>
</svg>
</body></html>
